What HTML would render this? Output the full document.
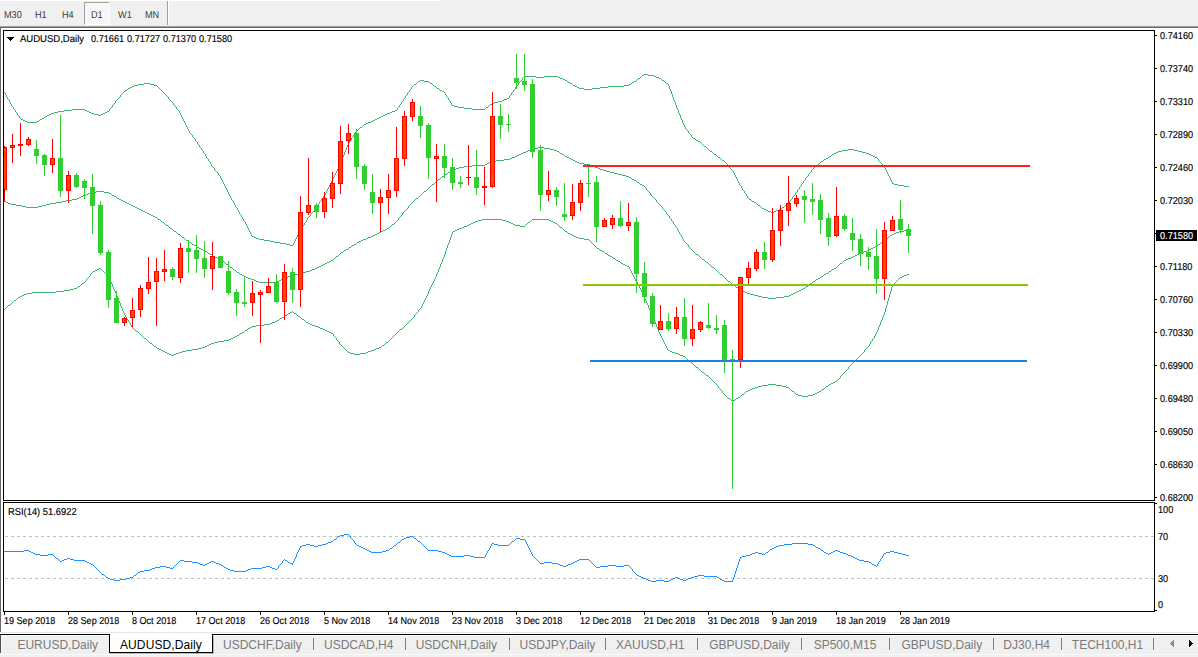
<!DOCTYPE html>
<html><head><meta charset="utf-8"><title>AUDUSD,Daily</title>
<style>
html,body{margin:0;padding:0;background:#fff;}
body{width:1198px;height:657px;position:relative;overflow:hidden;font-family:"Liberation Sans",sans-serif;}
#chart{position:absolute;left:0;top:0;}
.ax{-webkit-text-stroke:0.15px #000;position:absolute;font-size:10px;line-height:11px;height:11px;color:#000;white-space:pre;text-rendering:geometricPrecision;transform:scale(.915,1);transform-origin:0 0;}
.tb{position:absolute;top:10px;font-size:10px;line-height:11px;color:#3a3a3a;white-space:pre;text-rendering:geometricPrecision;transform:scale(.915,1);transform-origin:0 0;}
#toolbar{position:absolute;left:0;top:0;width:1198px;height:26px;background:#f0f0f0;}
#toolbar .hl{position:absolute;left:0;top:0;width:441px;height:1px;background:#fff;}
#tl1{position:absolute;left:0;top:26px;width:1198px;height:1px;background:#a0a0a0;}
#tl2{position:absolute;left:0;top:27px;width:1198px;height:1px;background:#696969;}
#lcol{position:absolute;left:0;top:27px;width:1px;height:605px;background:#696969;}
#tabbar .e0{position:absolute;left:0;top:3px;width:1px;height:18px;background:#505050;}
#tabbar .e1{position:absolute;left:1px;top:3px;width:1px;height:18px;background:#f8f8f8;}
#d1{position:absolute;left:84px;top:2px;width:24px;height:21px;border:1px solid #fff;border-top-color:#a0a0a0;border-left-color:#a0a0a0;background:repeating-conic-gradient(#fff 0% 25%, #f0f0f0 0% 50%) 0 0/2px 2px;}
#sepa{position:absolute;left:167px;top:1px;width:1px;height:24px;background:#a0a0a0;}
#sepb{position:absolute;left:168px;top:1px;width:1px;height:24px;background:#fff;}
#tabbar{position:absolute;left:0;top:632px;width:1198px;height:25px;background:#f0f0f0;}
#tabbar .l0{position:absolute;left:0;top:0;width:1198px;height:1px;background:#e6e6e6;}
#tabbar .l1{position:absolute;left:0;top:1px;width:1198px;height:1px;background:#fff;}
#tabbar .l2{position:absolute;left:0;top:2px;width:1198px;height:1px;background:#000;}
#tabbar .l3{position:absolute;left:0;top:3px;width:1198px;height:1px;background:#fff;}
#tabbar .l4{position:absolute;left:0;top:22px;width:1198px;height:1px;background:#fbfbfb;}
#acttab{position:absolute;left:109px;top:633px;width:102px;height:19px;background:#fff;border-left:1px solid #000;border-right:1px solid #000;border-bottom:1px solid #000;}
#acttab .sr{position:absolute;left:103px;top:3px;width:1px;height:18px;background:#b8b8b8;}
#acttab .sb{position:absolute;left:0px;top:20px;width:103px;height:1px;background:#b8b8b8;}
#acttab .cap{position:absolute;left:-1px;top:0;width:104px;height:1px;background:#fff;}
.tab{position:absolute;top:638px;font-size:12px;line-height:14px;color:#7a7a7a;white-space:pre;}
.tab.act{color:#000;letter-spacing:0.1px;}
</style></head><body>
<div id="toolbar"><div class="hl"></div><div id="d1"></div><div id="sepa"></div><div id="sepb"></div>
<div class="tb" style="left:3.6px">M30</div><div class="tb" style="left:35px">H1</div><div class="tb" style="left:62px">H4</div><div class="tb" style="left:90.5px">D1</div><div class="tb" style="left:118px">W1</div><div class="tb" style="left:145px">MN</div>
</div>
<div id="tl1"></div><div id="tl2"></div><div id="lcol"></div>
<svg id="chart" width="1198" height="657" viewBox="0 0 1198 657" shape-rendering="crispEdges">
<rect x="3" y="30" width="1152" height="1" fill="#000"/>
<rect x="3" y="500" width="1152" height="1" fill="#000"/>
<rect x="3" y="30" width="1" height="471" fill="#000"/>
<rect x="1154" y="30" width="1" height="471" fill="#000"/>
<rect x="3" y="502" width="1152" height="1" fill="#000"/>
<rect x="3" y="611" width="1152" height="1" fill="#000"/>
<rect x="3" y="502" width="1" height="110" fill="#000"/>
<rect x="1154" y="502" width="1" height="110" fill="#000"/>
<line x1="4" y1="536.5" x2="1154" y2="536.5" stroke="#c0c0c0" stroke-width="1" stroke-dasharray="3 3" stroke-dashoffset="-1"/>
<line x1="4" y1="578.5" x2="1154" y2="578.5" stroke="#c0c0c0" stroke-width="1" stroke-dasharray="3 3" stroke-dashoffset="-1"/>
<path d="M644 74h4v1h-4zM642 75h2v1h-2zM648 75h6v1h-6zM524 76h12v1h-12zM544 76h14v1h-14zM641 76h1v1h-1zM654 76h2v1h-2zM523 77h1v1h-1zM536 77h8v1h-8zM558 77h2v1h-2zM640 77h1v1h-1zM656 77h3v1h-3zM522 78h1v1h-1zM560 78h3v1h-3zM638 78h2v1h-2zM659 78h2v1h-2zM522 79h1v1h-1zM563 79h2v1h-2zM637 79h1v1h-1zM661 79h1v1h-1zM420 80h4v1h-4zM521 80h1v1h-1zM565 80h2v1h-2zM636 80h1v1h-1zM662 80h2v1h-2zM418 81h2v1h-2zM424 81h5v1h-5zM520 81h1v1h-1zM567 81h1v1h-1zM634 81h2v1h-2zM664 81h1v1h-1zM417 82h1v1h-1zM429 82h1v1h-1zM519 82h1v1h-1zM568 82h2v1h-2zM632 82h2v1h-2zM665 82h1v1h-1zM144 83h6v1h-6zM416 83h1v1h-1zM430 83h2v1h-2zM518 83h1v1h-1zM570 83h2v1h-2zM631 83h1v1h-1zM666 83h2v1h-2zM138 84h6v1h-6zM150 84h4v1h-4zM414 84h2v1h-2zM432 84h1v1h-1zM518 84h1v1h-1zM572 84h1v1h-1zM629 84h2v1h-2zM668 84h1v1h-1zM134 85h4v1h-4zM154 85h3v1h-3zM413 85h1v1h-1zM433 85h1v1h-1zM517 85h1v1h-1zM573 85h2v1h-2zM624 85h5v1h-5zM668 85h1v1h-1zM132 86h2v1h-2zM157 86h1v1h-1zM412 86h1v1h-1zM434 86h2v1h-2zM516 86h1v1h-1zM575 86h2v1h-2zM608 86h16v1h-16zM669 86h1v1h-1zM130 87h2v1h-2zM158 87h1v1h-1zM411 87h1v1h-1zM436 87h1v1h-1zM515 87h1v1h-1zM577 87h2v1h-2zM600 87h8v1h-8zM669 87h1v1h-1zM128 88h2v1h-2zM159 88h1v1h-1zM411 88h1v1h-1zM437 88h2v1h-2zM515 88h1v1h-1zM579 88h5v1h-5zM592 88h8v1h-8zM669 88h1v1h-1zM127 89h1v1h-1zM160 89h1v1h-1zM410 89h1v1h-1zM439 89h1v1h-1zM514 89h1v1h-1zM584 89h8v1h-8zM670 89h1v1h-1zM125 90h2v1h-2zM161 90h1v1h-1zM409 90h1v1h-1zM440 90h2v1h-2zM513 90h1v1h-1zM670 90h1v1h-1zM124 91h1v1h-1zM162 91h1v1h-1zM409 91h1v1h-1zM442 91h2v1h-2zM513 91h1v1h-1zM671 91h1v1h-1zM4 92h1v1h-1zM123 92h1v1h-1zM163 92h1v1h-1zM408 92h1v1h-1zM444 92h1v1h-1zM512 92h1v1h-1zM671 92h1v1h-1zM5 93h1v1h-1zM122 93h1v1h-1zM164 93h1v1h-1zM407 93h1v1h-1zM445 93h1v1h-1zM511 93h1v1h-1zM671 93h1v1h-1zM5 94h1v1h-1zM121 94h1v1h-1zM165 94h1v1h-1zM407 94h1v1h-1zM445 94h1v1h-1zM511 94h1v1h-1zM672 94h1v1h-1zM6 95h1v1h-1zM120 95h1v1h-1zM166 95h1v1h-1zM406 95h1v1h-1zM446 95h1v1h-1zM510 95h1v1h-1zM672 95h1v1h-1zM6 96h1v1h-1zM120 96h1v1h-1zM167 96h1v1h-1zM405 96h1v1h-1zM446 96h1v1h-1zM509 96h1v1h-1zM672 96h1v1h-1zM7 97h1v1h-1zM119 97h1v1h-1zM168 97h1v1h-1zM405 97h1v1h-1zM447 97h1v1h-1zM509 97h1v1h-1zM673 97h1v1h-1zM7 98h1v1h-1zM118 98h1v1h-1zM168 98h1v1h-1zM404 98h1v1h-1zM448 98h1v1h-1zM507 98h2v1h-2zM673 98h1v1h-1zM8 99h1v1h-1zM117 99h1v1h-1zM169 99h1v1h-1zM403 99h1v1h-1zM448 99h1v1h-1zM504 99h3v1h-3zM673 99h1v1h-1zM9 100h1v1h-1zM116 100h1v1h-1zM170 100h1v1h-1zM403 100h1v1h-1zM449 100h1v1h-1zM502 100h2v1h-2zM674 100h1v1h-1zM9 101h1v1h-1zM115 101h1v1h-1zM171 101h1v1h-1zM402 101h1v1h-1zM450 101h1v1h-1zM498 101h4v1h-4zM674 101h1v1h-1zM10 102h1v1h-1zM115 102h1v1h-1zM172 102h1v1h-1zM401 102h1v1h-1zM450 102h1v1h-1zM494 102h4v1h-4zM675 102h1v1h-1zM10 103h1v1h-1zM114 103h1v1h-1zM173 103h1v1h-1zM401 103h1v1h-1zM451 103h1v1h-1zM492 103h2v1h-2zM675 103h1v1h-1zM11 104h1v1h-1zM113 104h1v1h-1zM173 104h1v1h-1zM400 104h1v1h-1zM451 104h1v1h-1zM490 104h2v1h-2zM675 104h1v1h-1zM11 105h1v1h-1zM112 105h1v1h-1zM174 105h1v1h-1zM399 105h1v1h-1zM452 105h2v1h-2zM489 105h1v1h-1zM676 105h1v1h-1zM12 106h1v1h-1zM112 106h1v1h-1zM175 106h1v1h-1zM399 106h1v1h-1zM454 106h4v1h-4zM488 106h1v1h-1zM676 106h1v1h-1zM13 107h1v1h-1zM111 107h1v1h-1zM176 107h1v1h-1zM398 107h1v1h-1zM458 107h6v1h-6zM486 107h2v1h-2zM676 107h1v1h-1zM13 108h1v1h-1zM110 108h1v1h-1zM176 108h1v1h-1zM397 108h1v1h-1zM464 108h8v1h-8zM485 108h1v1h-1zM677 108h1v1h-1zM14 109h1v1h-1zM72 109h13v1h-13zM109 109h1v1h-1zM177 109h1v1h-1zM397 109h1v1h-1zM472 109h13v1h-13zM677 109h1v1h-1zM15 110h1v1h-1zM64 110h8v1h-8zM85 110h2v1h-2zM109 110h1v1h-1zM178 110h1v1h-1zM395 110h2v1h-2zM678 110h1v1h-1zM15 111h1v1h-1zM58 111h6v1h-6zM87 111h2v1h-2zM107 111h2v1h-2zM179 111h1v1h-1zM392 111h3v1h-3zM678 111h1v1h-1zM16 112h1v1h-1zM54 112h4v1h-4zM89 112h2v1h-2zM105 112h2v1h-2zM179 112h1v1h-1zM390 112h2v1h-2zM678 112h1v1h-1zM17 113h1v1h-1zM51 113h3v1h-3zM91 113h3v1h-3zM103 113h2v1h-2zM180 113h1v1h-1zM387 113h3v1h-3zM679 113h1v1h-1zM17 114h1v1h-1zM49 114h2v1h-2zM94 114h4v1h-4zM101 114h2v1h-2zM180 114h1v1h-1zM385 114h2v1h-2zM679 114h1v1h-1zM18 115h1v1h-1zM47 115h2v1h-2zM98 115h3v1h-3zM181 115h1v1h-1zM383 115h2v1h-2zM680 115h1v1h-1zM19 116h1v1h-1zM45 116h2v1h-2zM181 116h1v1h-1zM381 116h2v1h-2zM680 116h1v1h-1zM19 117h1v1h-1zM44 117h1v1h-1zM182 117h1v1h-1zM379 117h2v1h-2zM680 117h1v1h-1zM20 118h1v1h-1zM42 118h2v1h-2zM182 118h1v1h-1zM377 118h2v1h-2zM681 118h1v1h-1zM21 119h2v1h-2zM40 119h2v1h-2zM183 119h1v1h-1zM375 119h2v1h-2zM681 119h1v1h-1zM23 120h2v1h-2zM39 120h1v1h-1zM183 120h1v1h-1zM373 120h2v1h-2zM682 120h1v1h-1zM25 121h2v1h-2zM37 121h2v1h-2zM184 121h1v1h-1zM371 121h2v1h-2zM682 121h1v1h-1zM27 122h10v1h-10zM184 122h1v1h-1zM368 122h3v1h-3zM682 122h1v1h-1zM185 123h1v1h-1zM366 123h2v1h-2zM683 123h1v1h-1zM185 124h1v1h-1zM364 124h2v1h-2zM683 124h1v1h-1zM186 125h1v1h-1zM363 125h1v1h-1zM684 125h1v1h-1zM186 126h1v1h-1zM362 126h1v1h-1zM684 126h1v1h-1zM187 127h1v1h-1zM360 127h2v1h-2zM685 127h1v1h-1zM187 128h1v1h-1zM359 128h1v1h-1zM685 128h1v1h-1zM188 129h1v1h-1zM358 129h1v1h-1zM686 129h1v1h-1zM188 130h1v1h-1zM357 130h1v1h-1zM687 130h1v1h-1zM189 131h1v1h-1zM356 131h1v1h-1zM688 131h1v1h-1zM189 132h1v1h-1zM355 132h1v1h-1zM688 132h1v1h-1zM190 133h1v1h-1zM355 133h1v1h-1zM689 133h1v1h-1zM191 134h1v1h-1zM354 134h1v1h-1zM690 134h1v1h-1zM192 135h1v1h-1zM353 135h1v1h-1zM691 135h1v1h-1zM192 136h1v1h-1zM353 136h1v1h-1zM691 136h1v1h-1zM193 137h1v1h-1zM352 137h1v1h-1zM692 137h1v1h-1zM194 138h1v1h-1zM351 138h1v1h-1zM693 138h2v1h-2zM195 139h1v1h-1zM351 139h1v1h-1zM695 139h1v1h-1zM195 140h1v1h-1zM350 140h1v1h-1zM696 140h2v1h-2zM196 141h1v1h-1zM349 141h1v1h-1zM698 141h2v1h-2zM197 142h1v1h-1zM349 142h1v1h-1zM700 142h1v1h-1zM197 143h1v1h-1zM348 143h1v1h-1zM701 143h1v1h-1zM198 144h1v1h-1zM348 144h1v1h-1zM702 144h1v1h-1zM199 145h1v1h-1zM347 145h1v1h-1zM703 145h1v1h-1zM199 146h1v1h-1zM347 146h1v1h-1zM704 146h2v1h-2zM200 147h1v1h-1zM346 147h1v1h-1zM706 147h1v1h-1zM201 148h1v1h-1zM346 148h1v1h-1zM707 148h1v1h-1zM201 149h1v1h-1zM346 149h1v1h-1zM708 149h1v1h-1zM848 149h6v1h-6zM202 150h1v1h-1zM345 150h1v1h-1zM709 150h1v1h-1zM842 150h6v1h-6zM854 150h4v1h-4zM203 151h1v1h-1zM345 151h1v1h-1zM710 151h2v1h-2zM838 151h4v1h-4zM858 151h4v1h-4zM203 152h1v1h-1zM344 152h1v1h-1zM712 152h1v1h-1zM836 152h2v1h-2zM862 152h4v1h-4zM204 153h1v1h-1zM344 153h1v1h-1zM713 153h1v1h-1zM834 153h2v1h-2zM866 153h3v1h-3zM205 154h1v1h-1zM344 154h1v1h-1zM714 154h2v1h-2zM832 154h2v1h-2zM869 154h2v1h-2zM205 155h1v1h-1zM343 155h1v1h-1zM716 155h1v1h-1zM831 155h1v1h-1zM871 155h2v1h-2zM206 156h1v1h-1zM343 156h1v1h-1zM717 156h1v1h-1zM829 156h2v1h-2zM873 156h2v1h-2zM206 157h1v1h-1zM342 157h1v1h-1zM718 157h2v1h-2zM828 157h1v1h-1zM875 157h2v1h-2zM207 158h1v1h-1zM342 158h1v1h-1zM720 158h1v1h-1zM826 158h2v1h-2zM877 158h1v1h-1zM208 159h1v1h-1zM342 159h1v1h-1zM721 159h1v1h-1zM824 159h2v1h-2zM878 159h1v1h-1zM208 160h1v1h-1zM341 160h1v1h-1zM722 160h2v1h-2zM823 160h1v1h-1zM878 160h1v1h-1zM209 161h1v1h-1zM341 161h1v1h-1zM724 161h1v1h-1zM821 161h2v1h-2zM879 161h1v1h-1zM210 162h1v1h-1zM340 162h1v1h-1zM725 162h1v1h-1zM820 162h1v1h-1zM880 162h1v1h-1zM210 163h1v1h-1zM340 163h1v1h-1zM726 163h1v1h-1zM819 163h1v1h-1zM881 163h1v1h-1zM211 164h1v1h-1zM340 164h1v1h-1zM727 164h1v1h-1zM818 164h1v1h-1zM882 164h1v1h-1zM211 165h1v1h-1zM339 165h1v1h-1zM728 165h1v1h-1zM816 165h2v1h-2zM882 165h1v1h-1zM212 166h1v1h-1zM339 166h1v1h-1zM728 166h1v1h-1zM815 166h1v1h-1zM883 166h1v1h-1zM213 167h1v1h-1zM338 167h1v1h-1zM729 167h1v1h-1zM814 167h1v1h-1zM884 167h1v1h-1zM214 168h1v1h-1zM338 168h1v1h-1zM730 168h1v1h-1zM813 168h1v1h-1zM885 168h1v1h-1zM214 169h1v1h-1zM337 169h1v1h-1zM731 169h1v1h-1zM812 169h1v1h-1zM885 169h1v1h-1zM215 170h1v1h-1zM337 170h1v1h-1zM732 170h1v1h-1zM811 170h1v1h-1zM886 170h1v1h-1zM216 171h1v1h-1zM336 171h1v1h-1zM733 171h1v1h-1zM811 171h1v1h-1zM886 171h1v1h-1zM217 172h1v1h-1zM336 172h1v1h-1zM733 172h1v1h-1zM810 172h1v1h-1zM887 172h1v1h-1zM218 173h1v1h-1zM335 173h1v1h-1zM734 173h1v1h-1zM809 173h1v1h-1zM887 173h1v1h-1zM218 174h1v1h-1zM335 174h1v1h-1zM734 174h1v1h-1zM808 174h1v1h-1zM888 174h1v1h-1zM219 175h1v1h-1zM334 175h1v1h-1zM735 175h1v1h-1zM808 175h1v1h-1zM888 175h1v1h-1zM220 176h1v1h-1zM334 176h1v1h-1zM735 176h1v1h-1zM807 176h1v1h-1zM889 176h1v1h-1zM220 177h1v1h-1zM333 177h1v1h-1zM736 177h1v1h-1zM806 177h1v1h-1zM889 177h1v1h-1zM221 178h1v1h-1zM333 178h1v1h-1zM736 178h1v1h-1zM805 178h1v1h-1zM890 178h1v1h-1zM221 179h1v1h-1zM332 179h1v1h-1zM737 179h1v1h-1zM805 179h1v1h-1zM890 179h1v1h-1zM222 180h1v1h-1zM332 180h1v1h-1zM737 180h1v1h-1zM804 180h1v1h-1zM891 180h1v1h-1zM222 181h1v1h-1zM331 181h1v1h-1zM738 181h1v1h-1zM803 181h1v1h-1zM891 181h1v1h-1zM223 182h1v1h-1zM331 182h1v1h-1zM738 182h1v1h-1zM803 182h1v1h-1zM892 182h1v1h-1zM223 183h1v1h-1zM330 183h1v1h-1zM739 183h1v1h-1zM802 183h1v1h-1zM892 183h2v1h-2zM224 184h1v1h-1zM330 184h1v1h-1zM739 184h1v1h-1zM801 184h1v1h-1zM894 184h4v1h-4zM224 185h1v1h-1zM329 185h1v1h-1zM740 185h1v1h-1zM801 185h1v1h-1zM898 185h6v1h-6zM225 186h1v1h-1zM329 186h1v1h-1zM741 186h1v1h-1zM800 186h1v1h-1zM904 186h5v1h-5zM225 187h1v1h-1zM328 187h1v1h-1zM741 187h1v1h-1zM799 187h1v1h-1zM226 188h1v1h-1zM328 188h1v1h-1zM742 188h1v1h-1zM799 188h1v1h-1zM226 189h1v1h-1zM327 189h1v1h-1zM742 189h1v1h-1zM798 189h1v1h-1zM227 190h1v1h-1zM327 190h1v1h-1zM743 190h1v1h-1zM797 190h1v1h-1zM227 191h1v1h-1zM326 191h1v1h-1zM744 191h1v1h-1zM797 191h1v1h-1zM228 192h1v1h-1zM326 192h1v1h-1zM744 192h1v1h-1zM796 192h1v1h-1zM228 193h1v1h-1zM325 193h1v1h-1zM745 193h1v1h-1zM795 193h1v1h-1zM229 194h1v1h-1zM325 194h1v1h-1zM746 194h1v1h-1zM795 194h1v1h-1zM229 195h1v1h-1zM324 195h1v1h-1zM746 195h1v1h-1zM794 195h1v1h-1zM230 196h1v1h-1zM323 196h1v1h-1zM747 196h1v1h-1zM793 196h1v1h-1zM230 197h1v1h-1zM323 197h1v1h-1zM747 197h1v1h-1zM792 197h1v1h-1zM231 198h1v1h-1zM322 198h1v1h-1zM748 198h1v1h-1zM792 198h1v1h-1zM231 199h1v1h-1zM321 199h1v1h-1zM749 199h2v1h-2zM791 199h1v1h-1zM232 200h1v1h-1zM321 200h1v1h-1zM751 200h1v1h-1zM790 200h1v1h-1zM233 201h1v1h-1zM320 201h1v1h-1zM752 201h2v1h-2zM789 201h1v1h-1zM233 202h1v1h-1zM319 202h1v1h-1zM754 202h2v1h-2zM789 202h1v1h-1zM234 203h1v1h-1zM319 203h1v1h-1zM756 203h1v1h-1zM788 203h1v1h-1zM234 204h1v1h-1zM318 204h1v1h-1zM757 204h1v1h-1zM786 204h2v1h-2zM235 205h1v1h-1zM317 205h1v1h-1zM758 205h2v1h-2zM785 205h1v1h-1zM235 206h1v1h-1zM317 206h1v1h-1zM760 206h1v1h-1zM784 206h1v1h-1zM236 207h1v1h-1zM316 207h1v1h-1zM761 207h1v1h-1zM782 207h2v1h-2zM237 208h1v1h-1zM315 208h1v1h-1zM762 208h2v1h-2zM781 208h1v1h-1zM237 209h1v1h-1zM314 209h1v1h-1zM764 209h2v1h-2zM779 209h2v1h-2zM238 210h1v1h-1zM314 210h1v1h-1zM766 210h2v1h-2zM776 210h3v1h-3zM238 211h1v1h-1zM313 211h1v1h-1zM768 211h3v1h-3zM774 211h2v1h-2zM239 212h1v1h-1zM312 212h1v1h-1zM771 212h3v1h-3zM239 213h1v1h-1zM311 213h1v1h-1zM240 214h1v1h-1zM310 214h1v1h-1zM241 215h1v1h-1zM310 215h1v1h-1zM241 216h1v1h-1zM309 216h1v1h-1zM242 217h1v1h-1zM308 217h1v1h-1zM242 218h1v1h-1zM307 218h1v1h-1zM243 219h1v1h-1zM307 219h1v1h-1zM243 220h1v1h-1zM306 220h1v1h-1zM244 221h1v1h-1zM306 221h1v1h-1zM245 222h1v1h-1zM305 222h1v1h-1zM245 223h1v1h-1zM304 223h1v1h-1zM246 224h1v1h-1zM304 224h1v1h-1zM246 225h1v1h-1zM303 225h1v1h-1zM247 226h1v1h-1zM302 226h1v1h-1zM247 227h1v1h-1zM302 227h1v1h-1zM248 228h1v1h-1zM301 228h1v1h-1zM248 229h1v1h-1zM301 229h1v1h-1zM249 230h1v1h-1zM300 230h1v1h-1zM249 231h1v1h-1zM299 231h1v1h-1zM250 232h1v1h-1zM299 232h1v1h-1zM250 233h1v1h-1zM298 233h1v1h-1zM251 234h1v1h-1zM298 234h1v1h-1zM251 235h1v1h-1zM297 235h1v1h-1zM252 236h2v1h-2zM297 236h1v1h-1zM254 237h2v1h-2zM296 237h1v1h-1zM256 238h3v1h-3zM296 238h1v1h-1zM259 239h5v1h-5zM295 239h1v1h-1zM264 240h6v1h-6zM295 240h1v1h-1zM270 241h4v1h-4zM294 241h1v1h-1zM274 242h6v1h-6zM294 242h1v1h-1zM280 243h6v1h-6zM293 243h1v1h-1zM286 244h4v1h-4zM293 244h1v1h-1zM290 245h3v1h-3z" fill="#3cb371"/>
<path d="M538 147h6v1h-6zM534 148h4v1h-4zM544 148h6v1h-6zM531 149h3v1h-3zM550 149h4v1h-4zM528 150h3v1h-3zM554 150h3v1h-3zM526 151h2v1h-2zM557 151h2v1h-2zM523 152h3v1h-3zM559 152h1v1h-1zM521 153h2v1h-2zM560 153h2v1h-2zM519 154h2v1h-2zM562 154h2v1h-2zM517 155h2v1h-2zM564 155h1v1h-1zM515 156h2v1h-2zM565 156h2v1h-2zM512 157h3v1h-3zM567 157h2v1h-2zM510 158h2v1h-2zM569 158h2v1h-2zM504 159h6v1h-6zM571 159h2v1h-2zM496 160h8v1h-8zM573 160h2v1h-2zM491 161h5v1h-5zM575 161h2v1h-2zM489 162h2v1h-2zM577 162h2v1h-2zM487 163h2v1h-2zM579 163h5v1h-5zM485 164h2v1h-2zM584 164h6v1h-6zM472 165h13v1h-13zM590 165h2v1h-2zM464 166h8v1h-8zM592 166h3v1h-3zM459 167h5v1h-5zM595 167h3v1h-3zM456 168h3v1h-3zM598 168h2v1h-2zM454 169h2v1h-2zM600 169h3v1h-3zM452 170h2v1h-2zM603 170h3v1h-3zM450 171h2v1h-2zM606 171h4v1h-4zM448 172h2v1h-2zM610 172h4v1h-4zM447 173h1v1h-1zM614 173h4v1h-4zM445 174h2v1h-2zM618 174h4v1h-4zM444 175h1v1h-1zM622 175h4v1h-4zM442 176h2v1h-2zM626 176h3v1h-3zM441 177h1v1h-1zM629 177h2v1h-2zM440 178h1v1h-1zM631 178h1v1h-1zM438 179h2v1h-2zM632 179h2v1h-2zM437 180h1v1h-1zM634 180h2v1h-2zM436 181h1v1h-1zM636 181h1v1h-1zM435 182h1v1h-1zM637 182h2v1h-2zM434 183h1v1h-1zM639 183h1v1h-1zM432 184h2v1h-2zM640 184h2v1h-2zM431 185h1v1h-1zM642 185h2v1h-2zM430 186h1v1h-1zM644 186h1v1h-1zM429 187h1v1h-1zM645 187h1v1h-1zM428 188h1v1h-1zM646 188h1v1h-1zM427 189h1v1h-1zM646 189h1v1h-1zM426 190h1v1h-1zM647 190h1v1h-1zM96 191h8v1h-8zM424 191h2v1h-2zM648 191h1v1h-1zM91 192h5v1h-5zM104 192h5v1h-5zM423 192h1v1h-1zM649 192h1v1h-1zM88 193h3v1h-3zM109 193h2v1h-2zM422 193h1v1h-1zM650 193h1v1h-1zM86 194h2v1h-2zM111 194h1v1h-1zM421 194h1v1h-1zM650 194h1v1h-1zM83 195h3v1h-3zM112 195h2v1h-2zM420 195h1v1h-1zM651 195h1v1h-1zM81 196h2v1h-2zM114 196h2v1h-2zM419 196h1v1h-1zM652 196h1v1h-1zM79 197h2v1h-2zM116 197h1v1h-1zM418 197h1v1h-1zM653 197h1v1h-1zM77 198h2v1h-2zM117 198h2v1h-2zM416 198h2v1h-2zM654 198h1v1h-1zM72 199h5v1h-5zM119 199h2v1h-2zM415 199h1v1h-1zM655 199h1v1h-1zM66 200h6v1h-6zM121 200h2v1h-2zM414 200h1v1h-1zM656 200h1v1h-1zM4 201h2v1h-2zM62 201h4v1h-4zM123 201h2v1h-2zM413 201h1v1h-1zM656 201h1v1h-1zM6 202h2v1h-2zM56 202h6v1h-6zM125 202h2v1h-2zM412 202h1v1h-1zM657 202h1v1h-1zM8 203h3v1h-3zM50 203h6v1h-6zM127 203h2v1h-2zM411 203h1v1h-1zM658 203h1v1h-1zM11 204h5v1h-5zM46 204h4v1h-4zM129 204h2v1h-2zM410 204h1v1h-1zM659 204h1v1h-1zM16 205h6v1h-6zM42 205h4v1h-4zM131 205h2v1h-2zM409 205h1v1h-1zM660 205h1v1h-1zM22 206h4v1h-4zM38 206h4v1h-4zM133 206h2v1h-2zM408 206h1v1h-1zM661 206h1v1h-1zM26 207h12v1h-12zM135 207h2v1h-2zM408 207h1v1h-1zM662 207h1v1h-1zM137 208h2v1h-2zM407 208h1v1h-1zM662 208h1v1h-1zM139 209h2v1h-2zM406 209h1v1h-1zM663 209h1v1h-1zM141 210h2v1h-2zM405 210h1v1h-1zM664 210h1v1h-1zM143 211h2v1h-2zM404 211h1v1h-1zM665 211h1v1h-1zM145 212h2v1h-2zM403 212h1v1h-1zM666 212h1v1h-1zM147 213h2v1h-2zM402 213h1v1h-1zM666 213h1v1h-1zM149 214h2v1h-2zM402 214h1v1h-1zM667 214h1v1h-1zM151 215h2v1h-2zM401 215h1v1h-1zM668 215h1v1h-1zM153 216h2v1h-2zM400 216h1v1h-1zM669 216h1v1h-1zM155 217h2v1h-2zM399 217h1v1h-1zM669 217h1v1h-1zM157 218h1v1h-1zM398 218h1v1h-1zM670 218h1v1h-1zM158 219h2v1h-2zM398 219h1v1h-1zM671 219h1v1h-1zM160 220h1v1h-1zM397 220h1v1h-1zM671 220h1v1h-1zM161 221h1v1h-1zM396 221h1v1h-1zM672 221h1v1h-1zM162 222h2v1h-2zM395 222h1v1h-1zM673 222h1v1h-1zM164 223h1v1h-1zM394 223h1v1h-1zM673 223h1v1h-1zM165 224h1v1h-1zM392 224h2v1h-2zM674 224h1v1h-1zM166 225h2v1h-2zM391 225h1v1h-1zM675 225h1v1h-1zM168 226h1v1h-1zM390 226h1v1h-1zM675 226h1v1h-1zM169 227h1v1h-1zM389 227h1v1h-1zM676 227h1v1h-1zM170 228h2v1h-2zM387 228h2v1h-2zM677 228h1v1h-1zM172 229h1v1h-1zM385 229h2v1h-2zM677 229h1v1h-1zM173 230h1v1h-1zM383 230h2v1h-2zM678 230h1v1h-1zM904 230h5v1h-5zM174 231h2v1h-2zM381 231h2v1h-2zM678 231h1v1h-1zM899 231h5v1h-5zM176 232h1v1h-1zM379 232h2v1h-2zM679 232h1v1h-1zM896 232h3v1h-3zM177 233h1v1h-1zM377 233h2v1h-2zM679 233h1v1h-1zM894 233h2v1h-2zM178 234h2v1h-2zM375 234h2v1h-2zM680 234h1v1h-1zM892 234h2v1h-2zM180 235h1v1h-1zM373 235h2v1h-2zM681 235h1v1h-1zM890 235h2v1h-2zM181 236h1v1h-1zM371 236h2v1h-2zM681 236h1v1h-1zM889 236h1v1h-1zM182 237h2v1h-2zM368 237h3v1h-3zM682 237h1v1h-1zM888 237h1v1h-1zM184 238h1v1h-1zM366 238h2v1h-2zM682 238h1v1h-1zM886 238h2v1h-2zM185 239h1v1h-1zM363 239h3v1h-3zM683 239h1v1h-1zM885 239h1v1h-1zM186 240h2v1h-2zM361 240h2v1h-2zM683 240h1v1h-1zM884 240h1v1h-1zM188 241h1v1h-1zM359 241h2v1h-2zM684 241h1v1h-1zM882 241h2v1h-2zM189 242h2v1h-2zM357 242h2v1h-2zM685 242h1v1h-1zM881 242h1v1h-1zM191 243h1v1h-1zM356 243h1v1h-1zM686 243h1v1h-1zM880 243h1v1h-1zM192 244h2v1h-2zM354 244h2v1h-2zM687 244h1v1h-1zM878 244h2v1h-2zM194 245h2v1h-2zM352 245h2v1h-2zM688 245h1v1h-1zM877 245h1v1h-1zM196 246h1v1h-1zM351 246h1v1h-1zM688 246h1v1h-1zM875 246h2v1h-2zM197 247h2v1h-2zM349 247h2v1h-2zM689 247h1v1h-1zM873 247h2v1h-2zM199 248h2v1h-2zM348 248h1v1h-1zM690 248h1v1h-1zM871 248h2v1h-2zM201 249h2v1h-2zM346 249h2v1h-2zM691 249h1v1h-1zM869 249h2v1h-2zM203 250h2v1h-2zM344 250h2v1h-2zM692 250h1v1h-1zM867 250h2v1h-2zM205 251h2v1h-2zM343 251h1v1h-1zM693 251h1v1h-1zM864 251h3v1h-3zM207 252h1v1h-1zM341 252h2v1h-2zM694 252h1v1h-1zM862 252h2v1h-2zM208 253h2v1h-2zM340 253h1v1h-1zM695 253h1v1h-1zM859 253h3v1h-3zM210 254h2v1h-2zM339 254h1v1h-1zM696 254h2v1h-2zM857 254h2v1h-2zM212 255h1v1h-1zM338 255h1v1h-1zM698 255h1v1h-1zM855 255h2v1h-2zM213 256h2v1h-2zM336 256h2v1h-2zM699 256h1v1h-1zM853 256h2v1h-2zM215 257h2v1h-2zM335 257h1v1h-1zM700 257h1v1h-1zM851 257h2v1h-2zM217 258h2v1h-2zM334 258h1v1h-1zM701 258h1v1h-1zM848 258h3v1h-3zM219 259h2v1h-2zM333 259h1v1h-1zM702 259h2v1h-2zM846 259h2v1h-2zM221 260h1v1h-1zM331 260h2v1h-2zM704 260h1v1h-1zM844 260h2v1h-2zM222 261h2v1h-2zM329 261h2v1h-2zM705 261h1v1h-1zM843 261h1v1h-1zM224 262h1v1h-1zM327 262h2v1h-2zM706 262h2v1h-2zM842 262h1v1h-1zM225 263h1v1h-1zM325 263h2v1h-2zM708 263h1v1h-1zM840 263h2v1h-2zM226 264h2v1h-2zM323 264h2v1h-2zM709 264h1v1h-1zM839 264h1v1h-1zM228 265h1v1h-1zM321 265h2v1h-2zM710 265h1v1h-1zM838 265h1v1h-1zM229 266h1v1h-1zM319 266h2v1h-2zM711 266h1v1h-1zM837 266h1v1h-1zM230 267h2v1h-2zM317 267h2v1h-2zM712 267h2v1h-2zM836 267h1v1h-1zM232 268h1v1h-1zM315 268h2v1h-2zM714 268h1v1h-1zM834 268h2v1h-2zM233 269h1v1h-1zM312 269h3v1h-3zM715 269h1v1h-1zM832 269h2v1h-2zM234 270h2v1h-2zM310 270h2v1h-2zM716 270h1v1h-1zM831 270h1v1h-1zM236 271h1v1h-1zM306 271h4v1h-4zM717 271h1v1h-1zM829 271h2v1h-2zM237 272h2v1h-2zM302 272h4v1h-4zM718 272h1v1h-1zM828 272h1v1h-1zM239 273h1v1h-1zM298 273h4v1h-4zM719 273h1v1h-1zM826 273h2v1h-2zM240 274h2v1h-2zM294 274h4v1h-4zM720 274h2v1h-2zM824 274h2v1h-2zM242 275h2v1h-2zM291 275h3v1h-3zM722 275h1v1h-1zM823 275h1v1h-1zM244 276h2v1h-2zM288 276h3v1h-3zM723 276h1v1h-1zM821 276h2v1h-2zM246 277h2v1h-2zM286 277h2v1h-2zM724 277h1v1h-1zM820 277h1v1h-1zM248 278h3v1h-3zM283 278h3v1h-3zM725 278h1v1h-1zM818 278h2v1h-2zM251 279h3v1h-3zM281 279h2v1h-2zM726 279h1v1h-1zM816 279h2v1h-2zM254 280h2v1h-2zM279 280h2v1h-2zM727 280h1v1h-1zM815 280h1v1h-1zM256 281h3v1h-3zM277 281h2v1h-2zM728 281h2v1h-2zM813 281h2v1h-2zM259 282h18v1h-18zM730 282h1v1h-1zM812 282h1v1h-1zM731 283h1v1h-1zM810 283h2v1h-2zM732 284h1v1h-1zM809 284h1v1h-1zM733 285h2v1h-2zM808 285h1v1h-1zM735 286h1v1h-1zM806 286h2v1h-2zM736 287h2v1h-2zM805 287h1v1h-1zM738 288h2v1h-2zM803 288h2v1h-2zM740 289h1v1h-1zM801 289h2v1h-2zM741 290h2v1h-2zM799 290h2v1h-2zM743 291h2v1h-2zM797 291h2v1h-2zM745 292h2v1h-2zM795 292h2v1h-2zM747 293h3v1h-3zM793 293h2v1h-2zM750 294h4v1h-4zM791 294h2v1h-2zM754 295h4v1h-4zM789 295h2v1h-2zM758 296h4v1h-4zM784 296h5v1h-5zM762 297h6v1h-6zM776 297h8v1h-8zM768 298h8v1h-8z" fill="#3cb371"/>
<path d="M482 219h20v1h-20zM532 219h17v1h-17zM478 220h4v1h-4zM502 220h4v1h-4zM531 220h1v1h-1zM549 220h2v1h-2zM475 221h3v1h-3zM506 221h3v1h-3zM530 221h1v1h-1zM551 221h2v1h-2zM473 222h2v1h-2zM509 222h2v1h-2zM528 222h2v1h-2zM553 222h2v1h-2zM471 223h2v1h-2zM511 223h2v1h-2zM527 223h1v1h-1zM555 223h2v1h-2zM469 224h2v1h-2zM513 224h2v1h-2zM526 224h1v1h-1zM557 224h1v1h-1zM467 225h2v1h-2zM515 225h5v1h-5zM525 225h1v1h-1zM558 225h1v1h-1zM464 226h3v1h-3zM520 226h5v1h-5zM559 226h1v1h-1zM462 227h2v1h-2zM560 227h2v1h-2zM459 228h3v1h-3zM562 228h1v1h-1zM457 229h2v1h-2zM563 229h1v1h-1zM455 230h2v1h-2zM564 230h1v1h-1zM453 231h2v1h-2zM565 231h2v1h-2zM452 232h1v1h-1zM567 232h1v1h-1zM452 233h1v1h-1zM568 233h2v1h-2zM451 234h1v1h-1zM570 234h2v1h-2zM451 235h1v1h-1zM572 235h2v1h-2zM451 236h1v1h-1zM574 236h2v1h-2zM450 237h1v1h-1zM576 237h3v1h-3zM450 238h1v1h-1zM579 238h5v1h-5zM450 239h1v1h-1zM584 239h5v1h-5zM449 240h1v1h-1zM589 240h1v1h-1zM449 241h1v1h-1zM590 241h1v1h-1zM449 242h1v1h-1zM591 242h1v1h-1zM448 243h1v1h-1zM592 243h1v1h-1zM448 244h1v1h-1zM593 244h1v1h-1zM447 245h1v1h-1zM594 245h1v1h-1zM447 246h1v1h-1zM595 246h1v1h-1zM447 247h1v1h-1zM596 247h1v1h-1zM446 248h1v1h-1zM597 248h2v1h-2zM446 249h1v1h-1zM599 249h1v1h-1zM446 250h1v1h-1zM600 250h2v1h-2zM445 251h1v1h-1zM602 251h2v1h-2zM445 252h1v1h-1zM604 252h1v1h-1zM445 253h1v1h-1zM605 253h2v1h-2zM444 254h1v1h-1zM607 254h1v1h-1zM444 255h1v1h-1zM608 255h2v1h-2zM444 256h1v1h-1zM610 256h2v1h-2zM443 257h1v1h-1zM612 257h1v1h-1zM443 258h1v1h-1zM613 258h2v1h-2zM442 259h1v1h-1zM615 259h1v1h-1zM442 260h1v1h-1zM616 260h2v1h-2zM442 261h1v1h-1zM618 261h2v1h-2zM441 262h1v1h-1zM620 262h1v1h-1zM441 263h1v1h-1zM621 263h2v1h-2zM440 264h1v1h-1zM623 264h2v1h-2zM440 265h1v1h-1zM625 265h2v1h-2zM440 266h1v1h-1zM627 266h2v1h-2zM439 267h1v1h-1zM629 267h1v1h-1zM99 268h2v1h-2zM439 268h1v1h-1zM629 268h1v1h-1zM97 269h2v1h-2zM101 269h1v1h-1zM438 269h1v1h-1zM630 269h1v1h-1zM95 270h2v1h-2zM102 270h1v1h-1zM438 270h1v1h-1zM630 270h1v1h-1zM93 271h2v1h-2zM103 271h1v1h-1zM438 271h1v1h-1zM631 271h1v1h-1zM92 272h1v1h-1zM104 272h1v1h-1zM437 272h1v1h-1zM631 272h1v1h-1zM91 273h1v1h-1zM105 273h1v1h-1zM437 273h1v1h-1zM632 273h1v1h-1zM90 274h1v1h-1zM106 274h1v1h-1zM436 274h1v1h-1zM632 274h1v1h-1zM907 274h2v1h-2zM90 275h1v1h-1zM107 275h1v1h-1zM436 275h1v1h-1zM633 275h1v1h-1zM904 275h3v1h-3zM89 276h1v1h-1zM108 276h1v1h-1zM436 276h1v1h-1zM633 276h1v1h-1zM902 276h2v1h-2zM88 277h1v1h-1zM108 277h1v1h-1zM435 277h1v1h-1zM634 277h1v1h-1zM900 277h2v1h-2zM87 278h1v1h-1zM109 278h1v1h-1zM435 278h1v1h-1zM634 278h1v1h-1zM899 278h1v1h-1zM86 279h1v1h-1zM109 279h1v1h-1zM434 279h1v1h-1zM635 279h1v1h-1zM898 279h1v1h-1zM86 280h1v1h-1zM110 280h1v1h-1zM434 280h1v1h-1zM635 280h1v1h-1zM897 280h1v1h-1zM85 281h1v1h-1zM110 281h1v1h-1zM433 281h1v1h-1zM636 281h1v1h-1zM896 281h1v1h-1zM84 282h1v1h-1zM111 282h1v1h-1zM433 282h1v1h-1zM637 282h1v1h-1zM895 282h1v1h-1zM82 283h2v1h-2zM111 283h1v1h-1zM432 283h1v1h-1zM637 283h1v1h-1zM894 283h1v1h-1zM81 284h1v1h-1zM112 284h1v1h-1zM432 284h1v1h-1zM638 284h1v1h-1zM893 284h1v1h-1zM80 285h1v1h-1zM112 285h1v1h-1zM431 285h1v1h-1zM638 285h1v1h-1zM892 285h1v1h-1zM78 286h2v1h-2zM112 286h1v1h-1zM431 286h1v1h-1zM639 286h1v1h-1zM892 286h1v1h-1zM77 287h1v1h-1zM113 287h1v1h-1zM430 287h1v1h-1zM639 287h1v1h-1zM891 287h1v1h-1zM74 288h3v1h-3zM113 288h1v1h-1zM430 288h1v1h-1zM640 288h1v1h-1zM891 288h1v1h-1zM70 289h4v1h-4zM114 289h1v1h-1zM429 289h1v1h-1zM640 289h1v1h-1zM891 289h1v1h-1zM64 290h6v1h-6zM114 290h1v1h-1zM429 290h1v1h-1zM641 290h1v1h-1zM891 290h1v1h-1zM56 291h8v1h-8zM115 291h1v1h-1zM428 291h1v1h-1zM641 291h1v1h-1zM890 291h1v1h-1zM32 292h24v1h-24zM115 292h1v1h-1zM428 292h1v1h-1zM642 292h1v1h-1zM890 292h1v1h-1zM27 293h5v1h-5zM116 293h1v1h-1zM428 293h1v1h-1zM642 293h1v1h-1zM890 293h1v1h-1zM24 294h3v1h-3zM116 294h1v1h-1zM427 294h1v1h-1zM643 294h1v1h-1zM889 294h1v1h-1zM22 295h2v1h-2zM116 295h1v1h-1zM427 295h1v1h-1zM643 295h1v1h-1zM889 295h1v1h-1zM20 296h2v1h-2zM117 296h1v1h-1zM426 296h1v1h-1zM644 296h1v1h-1zM889 296h1v1h-1zM18 297h2v1h-2zM117 297h1v1h-1zM426 297h1v1h-1zM644 297h1v1h-1zM889 297h1v1h-1zM17 298h1v1h-1zM118 298h1v1h-1zM425 298h1v1h-1zM644 298h1v1h-1zM888 298h1v1h-1zM16 299h1v1h-1zM118 299h1v1h-1zM425 299h1v1h-1zM645 299h1v1h-1zM888 299h1v1h-1zM14 300h2v1h-2zM118 300h1v1h-1zM424 300h1v1h-1zM645 300h1v1h-1zM888 300h1v1h-1zM13 301h1v1h-1zM119 301h1v1h-1zM424 301h1v1h-1zM646 301h1v1h-1zM887 301h1v1h-1zM12 302h1v1h-1zM119 302h1v1h-1zM423 302h1v1h-1zM646 302h1v1h-1zM887 302h1v1h-1zM11 303h1v1h-1zM120 303h1v1h-1zM423 303h1v1h-1zM647 303h1v1h-1zM887 303h1v1h-1zM10 304h1v1h-1zM120 304h1v1h-1zM422 304h1v1h-1zM647 304h1v1h-1zM887 304h1v1h-1zM8 305h2v1h-2zM120 305h1v1h-1zM422 305h1v1h-1zM648 305h1v1h-1zM886 305h1v1h-1zM7 306h1v1h-1zM121 306h1v1h-1zM421 306h1v1h-1zM648 306h1v1h-1zM886 306h1v1h-1zM6 307h1v1h-1zM121 307h1v1h-1zM421 307h1v1h-1zM648 307h1v1h-1zM886 307h1v1h-1zM5 308h1v1h-1zM122 308h1v1h-1zM420 308h1v1h-1zM649 308h1v1h-1zM885 308h1v1h-1zM4 309h1v1h-1zM122 309h1v1h-1zM419 309h1v1h-1zM649 309h1v1h-1zM885 309h1v1h-1zM122 310h1v1h-1zM418 310h1v1h-1zM650 310h1v1h-1zM885 310h1v1h-1zM123 311h1v1h-1zM292 311h1v1h-1zM418 311h1v1h-1zM650 311h1v1h-1zM885 311h1v1h-1zM123 312h1v1h-1zM290 312h2v1h-2zM293 312h1v1h-1zM417 312h1v1h-1zM651 312h1v1h-1zM884 312h1v1h-1zM124 313h1v1h-1zM288 313h2v1h-2zM294 313h2v1h-2zM416 313h1v1h-1zM651 313h1v1h-1zM884 313h1v1h-1zM124 314h1v1h-1zM287 314h1v1h-1zM296 314h1v1h-1zM415 314h1v1h-1zM652 314h1v1h-1zM884 314h1v1h-1zM125 315h1v1h-1zM285 315h2v1h-2zM297 315h1v1h-1zM414 315h1v1h-1zM652 315h1v1h-1zM883 315h1v1h-1zM125 316h1v1h-1zM284 316h1v1h-1zM298 316h2v1h-2zM414 316h1v1h-1zM652 316h1v1h-1zM883 316h1v1h-1zM126 317h1v1h-1zM282 317h2v1h-2zM300 317h1v1h-1zM413 317h1v1h-1zM653 317h1v1h-1zM882 317h1v1h-1zM126 318h1v1h-1zM280 318h2v1h-2zM301 318h1v1h-1zM412 318h1v1h-1zM653 318h1v1h-1zM882 318h1v1h-1zM127 319h1v1h-1zM279 319h1v1h-1zM302 319h2v1h-2zM411 319h1v1h-1zM654 319h1v1h-1zM882 319h1v1h-1zM128 320h1v1h-1zM277 320h2v1h-2zM304 320h1v1h-1zM410 320h1v1h-1zM654 320h1v1h-1zM881 320h1v1h-1zM128 321h1v1h-1zM275 321h2v1h-2zM305 321h1v1h-1zM409 321h1v1h-1zM654 321h1v1h-1zM881 321h1v1h-1zM129 322h1v1h-1zM272 322h3v1h-3zM306 322h2v1h-2zM408 322h1v1h-1zM655 322h1v1h-1zM880 322h1v1h-1zM130 323h1v1h-1zM270 323h2v1h-2zM308 323h2v1h-2zM407 323h1v1h-1zM655 323h1v1h-1zM880 323h1v1h-1zM130 324h1v1h-1zM264 324h6v1h-6zM310 324h2v1h-2zM406 324h1v1h-1zM656 324h1v1h-1zM880 324h1v1h-1zM131 325h1v1h-1zM256 325h8v1h-8zM312 325h3v1h-3zM405 325h1v1h-1zM656 325h1v1h-1zM879 325h1v1h-1zM131 326h1v1h-1zM252 326h4v1h-4zM315 326h3v1h-3zM404 326h1v1h-1zM656 326h1v1h-1zM879 326h1v1h-1zM132 327h1v1h-1zM250 327h2v1h-2zM318 327h2v1h-2zM403 327h1v1h-1zM657 327h1v1h-1zM878 327h1v1h-1zM133 328h1v1h-1zM248 328h2v1h-2zM320 328h3v1h-3zM402 328h1v1h-1zM657 328h1v1h-1zM878 328h1v1h-1zM134 329h1v1h-1zM247 329h1v1h-1zM323 329h2v1h-2zM400 329h2v1h-2zM658 329h1v1h-1zM878 329h1v1h-1zM135 330h1v1h-1zM245 330h2v1h-2zM325 330h2v1h-2zM399 330h1v1h-1zM658 330h1v1h-1zM877 330h1v1h-1zM136 331h2v1h-2zM244 331h1v1h-1zM327 331h2v1h-2zM398 331h1v1h-1zM658 331h1v1h-1zM877 331h1v1h-1zM138 332h1v1h-1zM242 332h2v1h-2zM329 332h2v1h-2zM397 332h1v1h-1zM659 332h1v1h-1zM876 332h1v1h-1zM139 333h1v1h-1zM240 333h2v1h-2zM331 333h2v1h-2zM396 333h1v1h-1zM659 333h1v1h-1zM876 333h1v1h-1zM140 334h1v1h-1zM239 334h1v1h-1zM333 334h1v1h-1zM395 334h1v1h-1zM660 334h1v1h-1zM875 334h1v1h-1zM141 335h1v1h-1zM237 335h2v1h-2zM333 335h1v1h-1zM394 335h1v1h-1zM660 335h1v1h-1zM875 335h1v1h-1zM142 336h1v1h-1zM235 336h2v1h-2zM334 336h1v1h-1zM393 336h1v1h-1zM661 336h1v1h-1zM874 336h1v1h-1zM143 337h1v1h-1zM233 337h2v1h-2zM335 337h1v1h-1zM392 337h1v1h-1zM661 337h1v1h-1zM874 337h1v1h-1zM144 338h2v1h-2zM231 338h2v1h-2zM336 338h1v1h-1zM391 338h1v1h-1zM662 338h1v1h-1zM873 338h1v1h-1zM146 339h1v1h-1zM229 339h2v1h-2zM336 339h1v1h-1zM390 339h1v1h-1zM662 339h1v1h-1zM872 339h1v1h-1zM147 340h1v1h-1zM224 340h5v1h-5zM337 340h1v1h-1zM389 340h1v1h-1zM663 340h1v1h-1zM872 340h1v1h-1zM148 341h1v1h-1zM218 341h6v1h-6zM338 341h1v1h-1zM388 341h1v1h-1zM663 341h1v1h-1zM871 341h1v1h-1zM149 342h1v1h-1zM214 342h4v1h-4zM339 342h1v1h-1zM386 342h2v1h-2zM664 342h1v1h-1zM870 342h1v1h-1zM150 343h2v1h-2zM211 343h3v1h-3zM339 343h1v1h-1zM385 343h1v1h-1zM664 343h1v1h-1zM870 343h1v1h-1zM152 344h1v1h-1zM209 344h2v1h-2zM340 344h1v1h-1zM384 344h1v1h-1zM665 344h1v1h-1zM869 344h1v1h-1zM153 345h1v1h-1zM207 345h2v1h-2zM341 345h1v1h-1zM382 345h2v1h-2zM665 345h1v1h-1zM869 345h1v1h-1zM154 346h2v1h-2zM205 346h2v1h-2zM342 346h1v1h-1zM381 346h1v1h-1zM666 346h1v1h-1zM868 346h1v1h-1zM156 347h1v1h-1zM202 347h3v1h-3zM343 347h1v1h-1zM379 347h2v1h-2zM666 347h1v1h-1zM867 347h1v1h-1zM157 348h2v1h-2zM198 348h4v1h-4zM344 348h1v1h-1zM376 348h3v1h-3zM667 348h1v1h-1zM866 348h1v1h-1zM159 349h2v1h-2zM192 349h6v1h-6zM345 349h1v1h-1zM374 349h2v1h-2zM667 349h1v1h-1zM865 349h1v1h-1zM161 350h2v1h-2zM186 350h6v1h-6zM346 350h1v1h-1zM371 350h3v1h-3zM668 350h2v1h-2zM864 350h1v1h-1zM163 351h2v1h-2zM182 351h4v1h-4zM347 351h1v1h-1zM368 351h3v1h-3zM670 351h2v1h-2zM864 351h1v1h-1zM165 352h2v1h-2zM179 352h3v1h-3zM348 352h2v1h-2zM366 352h2v1h-2zM672 352h3v1h-3zM863 352h1v1h-1zM167 353h2v1h-2zM176 353h3v1h-3zM350 353h4v1h-4zM360 353h6v1h-6zM675 353h3v1h-3zM862 353h1v1h-1zM169 354h2v1h-2zM174 354h2v1h-2zM354 354h6v1h-6zM678 354h2v1h-2zM861 354h1v1h-1zM171 355h3v1h-3zM680 355h3v1h-3zM860 355h1v1h-1zM683 356h2v1h-2zM859 356h1v1h-1zM685 357h1v1h-1zM858 357h1v1h-1zM686 358h1v1h-1zM857 358h1v1h-1zM687 359h1v1h-1zM856 359h1v1h-1zM688 360h2v1h-2zM855 360h1v1h-1zM690 361h1v1h-1zM854 361h1v1h-1zM691 362h1v1h-1zM853 362h1v1h-1zM692 363h1v1h-1zM852 363h1v1h-1zM693 364h1v1h-1zM851 364h1v1h-1zM694 365h1v1h-1zM850 365h1v1h-1zM695 366h1v1h-1zM849 366h1v1h-1zM696 367h2v1h-2zM848 367h1v1h-1zM698 368h1v1h-1zM848 368h1v1h-1zM699 369h1v1h-1zM847 369h1v1h-1zM700 370h1v1h-1zM846 370h1v1h-1zM701 371h1v1h-1zM845 371h1v1h-1zM702 372h2v1h-2zM844 372h1v1h-1zM704 373h1v1h-1zM843 373h1v1h-1zM705 374h1v1h-1zM842 374h1v1h-1zM706 375h2v1h-2zM841 375h1v1h-1zM708 376h1v1h-1zM840 376h1v1h-1zM709 377h1v1h-1zM840 377h1v1h-1zM710 378h1v1h-1zM839 378h1v1h-1zM711 379h1v1h-1zM838 379h1v1h-1zM712 380h1v1h-1zM837 380h1v1h-1zM713 381h1v1h-1zM835 381h2v1h-2zM714 382h1v1h-1zM833 382h2v1h-2zM715 383h1v1h-1zM831 383h2v1h-2zM716 384h1v1h-1zM768 384h8v1h-8zM829 384h2v1h-2zM717 385h1v1h-1zM762 385h6v1h-6zM776 385h6v1h-6zM828 385h1v1h-1zM718 386h1v1h-1zM758 386h4v1h-4zM782 386h4v1h-4zM826 386h2v1h-2zM718 387h1v1h-1zM755 387h3v1h-3zM786 387h3v1h-3zM825 387h1v1h-1zM719 388h1v1h-1zM752 388h3v1h-3zM789 388h1v1h-1zM824 388h1v1h-1zM720 389h1v1h-1zM750 389h2v1h-2zM790 389h1v1h-1zM822 389h2v1h-2zM721 390h1v1h-1zM748 390h2v1h-2zM791 390h1v1h-1zM821 390h1v1h-1zM722 391h1v1h-1zM746 391h2v1h-2zM792 391h2v1h-2zM819 391h2v1h-2zM722 392h1v1h-1zM745 392h1v1h-1zM794 392h1v1h-1zM817 392h2v1h-2zM723 393h1v1h-1zM744 393h1v1h-1zM795 393h1v1h-1zM815 393h2v1h-2zM724 394h1v1h-1zM742 394h2v1h-2zM796 394h2v1h-2zM813 394h2v1h-2zM725 395h1v1h-1zM741 395h1v1h-1zM798 395h4v1h-4zM808 395h5v1h-5zM726 396h1v1h-1zM740 396h1v1h-1zM802 396h6v1h-6zM727 397h1v1h-1zM738 397h2v1h-2zM728 398h2v1h-2zM736 398h2v1h-2zM730 399h1v1h-1zM735 399h1v1h-1zM731 400h1v1h-1zM733 400h2v1h-2zM732 401h1v1h-1z" fill="#3cb371"/>
<rect x="4" y="146" width="1" height="55" fill="#ff0000"/>
<rect x="4" y="147" width="3" height="43" fill="#ff0000"/>
<rect x="4" y="148" width="2" height="41" fill="#ff4500"/>
<rect x="12" y="134" width="1" height="29" fill="#ff0000"/>
<rect x="10" y="145" width="5" height="3" fill="#ff0000"/>
<rect x="11" y="146" width="3" height="1" fill="#ff4500"/>
<rect x="20" y="123" width="1" height="33" fill="#ff0000"/>
<rect x="18" y="144" width="5" height="2" fill="#ff0000"/>
<rect x="28" y="137" width="1" height="9" fill="#ff0000"/>
<rect x="26" y="139" width="5" height="6" fill="#ff0000"/>
<rect x="27" y="140" width="3" height="4" fill="#ff4500"/>
<rect x="36" y="140" width="1" height="24" fill="#32cd32"/>
<rect x="34" y="149" width="5" height="7" fill="#32cd32"/>
<rect x="44" y="154" width="1" height="22" fill="#32cd32"/>
<rect x="42" y="155" width="5" height="10" fill="#32cd32"/>
<rect x="52" y="139" width="1" height="34" fill="#ff0000"/>
<rect x="50" y="158" width="5" height="7" fill="#ff0000"/>
<rect x="51" y="159" width="3" height="5" fill="#ff4500"/>
<rect x="60" y="115" width="1" height="82" fill="#32cd32"/>
<rect x="58" y="158" width="5" height="33" fill="#32cd32"/>
<rect x="68" y="171" width="1" height="32" fill="#ff0000"/>
<rect x="66" y="175" width="5" height="16" fill="#ff0000"/>
<rect x="67" y="176" width="3" height="14" fill="#ff4500"/>
<rect x="76" y="173" width="1" height="15" fill="#32cd32"/>
<rect x="74" y="175" width="5" height="12" fill="#32cd32"/>
<rect x="84" y="179" width="1" height="20" fill="#32cd32"/>
<rect x="82" y="181" width="5" height="7" fill="#32cd32"/>
<rect x="92" y="174" width="1" height="60" fill="#32cd32"/>
<rect x="90" y="187" width="5" height="19" fill="#32cd32"/>
<rect x="100" y="201" width="1" height="54" fill="#32cd32"/>
<rect x="98" y="205" width="5" height="48" fill="#32cd32"/>
<rect x="108" y="250" width="1" height="58" fill="#32cd32"/>
<rect x="106" y="252" width="5" height="48" fill="#32cd32"/>
<rect x="116" y="291" width="1" height="32" fill="#32cd32"/>
<rect x="114" y="298" width="5" height="25" fill="#32cd32"/>
<rect x="124" y="317" width="1" height="9" fill="#ff0000"/>
<rect x="122" y="318" width="5" height="5" fill="#ff0000"/>
<rect x="123" y="319" width="3" height="3" fill="#ff4500"/>
<rect x="132" y="298" width="1" height="29" fill="#ff0000"/>
<rect x="130" y="310" width="5" height="8" fill="#ff0000"/>
<rect x="131" y="311" width="3" height="6" fill="#ff4500"/>
<rect x="140" y="285" width="1" height="32" fill="#ff0000"/>
<rect x="138" y="288" width="5" height="22" fill="#ff0000"/>
<rect x="139" y="289" width="3" height="20" fill="#ff4500"/>
<rect x="148" y="257" width="1" height="37" fill="#ff0000"/>
<rect x="146" y="282" width="5" height="7" fill="#ff0000"/>
<rect x="147" y="283" width="3" height="5" fill="#ff4500"/>
<rect x="156" y="258" width="1" height="68" fill="#ff0000"/>
<rect x="154" y="271" width="5" height="11" fill="#ff0000"/>
<rect x="155" y="272" width="3" height="9" fill="#ff4500"/>
<rect x="164" y="250" width="1" height="31" fill="#ff0000"/>
<rect x="162" y="269" width="5" height="3" fill="#ff0000"/>
<rect x="163" y="270" width="3" height="1" fill="#ff4500"/>
<rect x="172" y="267" width="1" height="13" fill="#32cd32"/>
<rect x="170" y="269" width="5" height="8" fill="#32cd32"/>
<rect x="180" y="243" width="1" height="40" fill="#ff0000"/>
<rect x="178" y="248" width="5" height="30" fill="#ff0000"/>
<rect x="179" y="249" width="3" height="28" fill="#ff4500"/>
<rect x="188" y="240" width="1" height="33" fill="#32cd32"/>
<rect x="186" y="248" width="5" height="4" fill="#32cd32"/>
<rect x="196" y="235" width="1" height="38" fill="#32cd32"/>
<rect x="194" y="250" width="5" height="9" fill="#32cd32"/>
<rect x="204" y="241" width="1" height="37" fill="#32cd32"/>
<rect x="202" y="258" width="5" height="11" fill="#32cd32"/>
<rect x="212" y="242" width="1" height="48" fill="#ff0000"/>
<rect x="210" y="256" width="5" height="13" fill="#ff0000"/>
<rect x="211" y="257" width="3" height="11" fill="#ff4500"/>
<rect x="220" y="256" width="1" height="12" fill="#32cd32"/>
<rect x="218" y="256" width="5" height="12" fill="#32cd32"/>
<rect x="228" y="261" width="1" height="34" fill="#32cd32"/>
<rect x="226" y="271" width="5" height="22" fill="#32cd32"/>
<rect x="236" y="289" width="1" height="27" fill="#32cd32"/>
<rect x="234" y="292" width="5" height="11" fill="#32cd32"/>
<rect x="244" y="277" width="1" height="30" fill="#32cd32"/>
<rect x="242" y="302" width="5" height="2" fill="#32cd32"/>
<rect x="252" y="281" width="1" height="35" fill="#ff0000"/>
<rect x="250" y="293" width="5" height="10" fill="#ff0000"/>
<rect x="251" y="294" width="3" height="8" fill="#ff4500"/>
<rect x="260" y="290" width="1" height="53" fill="#ff0000"/>
<rect x="258" y="292" width="5" height="3" fill="#ff0000"/>
<rect x="259" y="293" width="3" height="1" fill="#ff4500"/>
<rect x="268" y="278" width="1" height="15" fill="#ff0000"/>
<rect x="266" y="286" width="5" height="7" fill="#ff0000"/>
<rect x="267" y="287" width="3" height="5" fill="#ff4500"/>
<rect x="276" y="274" width="1" height="29" fill="#32cd32"/>
<rect x="274" y="282" width="5" height="20" fill="#32cd32"/>
<rect x="284" y="264" width="1" height="56" fill="#ff0000"/>
<rect x="282" y="272" width="5" height="30" fill="#ff0000"/>
<rect x="283" y="273" width="3" height="28" fill="#ff4500"/>
<rect x="292" y="268" width="1" height="35" fill="#32cd32"/>
<rect x="290" y="272" width="5" height="18" fill="#32cd32"/>
<rect x="300" y="196" width="1" height="111" fill="#ff0000"/>
<rect x="298" y="212" width="5" height="78" fill="#ff0000"/>
<rect x="299" y="213" width="3" height="76" fill="#ff4500"/>
<rect x="308" y="158" width="1" height="57" fill="#ff0000"/>
<rect x="306" y="205" width="5" height="8" fill="#ff0000"/>
<rect x="307" y="206" width="3" height="6" fill="#ff4500"/>
<rect x="316" y="203" width="1" height="15" fill="#32cd32"/>
<rect x="314" y="205" width="5" height="7" fill="#32cd32"/>
<rect x="324" y="192" width="1" height="26" fill="#ff0000"/>
<rect x="322" y="198" width="5" height="14" fill="#ff0000"/>
<rect x="323" y="199" width="3" height="12" fill="#ff4500"/>
<rect x="332" y="172" width="1" height="36" fill="#ff0000"/>
<rect x="330" y="183" width="5" height="16" fill="#ff0000"/>
<rect x="331" y="184" width="3" height="14" fill="#ff4500"/>
<rect x="340" y="126" width="1" height="68" fill="#ff0000"/>
<rect x="338" y="141" width="5" height="43" fill="#ff0000"/>
<rect x="339" y="142" width="3" height="41" fill="#ff4500"/>
<rect x="348" y="124" width="1" height="30" fill="#ff0000"/>
<rect x="346" y="133" width="5" height="8" fill="#ff0000"/>
<rect x="347" y="134" width="3" height="6" fill="#ff4500"/>
<rect x="356" y="129" width="1" height="50" fill="#32cd32"/>
<rect x="354" y="133" width="5" height="34" fill="#32cd32"/>
<rect x="364" y="164" width="1" height="26" fill="#32cd32"/>
<rect x="362" y="166" width="5" height="18" fill="#32cd32"/>
<rect x="372" y="174" width="1" height="40" fill="#32cd32"/>
<rect x="370" y="192" width="5" height="11" fill="#32cd32"/>
<rect x="380" y="189" width="1" height="43" fill="#ff0000"/>
<rect x="378" y="197" width="5" height="6" fill="#ff0000"/>
<rect x="379" y="198" width="3" height="4" fill="#ff4500"/>
<rect x="388" y="174" width="1" height="40" fill="#ff0000"/>
<rect x="386" y="190" width="5" height="8" fill="#ff0000"/>
<rect x="387" y="191" width="3" height="6" fill="#ff4500"/>
<rect x="396" y="127" width="1" height="70" fill="#ff0000"/>
<rect x="394" y="158" width="5" height="33" fill="#ff0000"/>
<rect x="395" y="159" width="3" height="31" fill="#ff4500"/>
<rect x="404" y="111" width="1" height="55" fill="#ff0000"/>
<rect x="402" y="116" width="5" height="43" fill="#ff0000"/>
<rect x="403" y="117" width="3" height="41" fill="#ff4500"/>
<rect x="412" y="99" width="1" height="22" fill="#ff0000"/>
<rect x="410" y="102" width="5" height="15" fill="#ff0000"/>
<rect x="411" y="103" width="3" height="13" fill="#ff4500"/>
<rect x="420" y="106" width="1" height="32" fill="#32cd32"/>
<rect x="418" y="116" width="5" height="10" fill="#32cd32"/>
<rect x="428" y="123" width="1" height="56" fill="#32cd32"/>
<rect x="426" y="125" width="5" height="33" fill="#32cd32"/>
<rect x="436" y="144" width="1" height="58" fill="#ff0000"/>
<rect x="434" y="156" width="5" height="3" fill="#ff0000"/>
<rect x="435" y="157" width="3" height="1" fill="#ff4500"/>
<rect x="444" y="144" width="1" height="34" fill="#32cd32"/>
<rect x="442" y="156" width="5" height="12" fill="#32cd32"/>
<rect x="452" y="158" width="1" height="32" fill="#32cd32"/>
<rect x="450" y="167" width="5" height="16" fill="#32cd32"/>
<rect x="460" y="176" width="1" height="12" fill="#32cd32"/>
<rect x="458" y="182" width="5" height="2" fill="#32cd32"/>
<rect x="468" y="145" width="1" height="40" fill="#ff0000"/>
<rect x="466" y="177" width="5" height="1" fill="#ff0000"/>
<rect x="476" y="150" width="1" height="45" fill="#32cd32"/>
<rect x="474" y="177" width="5" height="11" fill="#32cd32"/>
<rect x="484" y="167" width="1" height="38" fill="#ff0000"/>
<rect x="482" y="186" width="5" height="2" fill="#ff0000"/>
<rect x="492" y="92" width="1" height="96" fill="#ff0000"/>
<rect x="490" y="116" width="5" height="71" fill="#ff0000"/>
<rect x="491" y="117" width="3" height="69" fill="#ff4500"/>
<rect x="500" y="104" width="1" height="35" fill="#32cd32"/>
<rect x="498" y="116" width="5" height="9" fill="#32cd32"/>
<rect x="508" y="114" width="1" height="18" fill="#32cd32"/>
<rect x="506" y="124" width="5" height="1" fill="#32cd32"/>
<rect x="516" y="54" width="1" height="35" fill="#32cd32"/>
<rect x="514" y="78" width="5" height="5" fill="#32cd32"/>
<rect x="524" y="54" width="1" height="37" fill="#32cd32"/>
<rect x="522" y="81" width="5" height="4" fill="#32cd32"/>
<rect x="532" y="79" width="1" height="79" fill="#32cd32"/>
<rect x="530" y="84" width="5" height="68" fill="#32cd32"/>
<rect x="540" y="145" width="1" height="66" fill="#32cd32"/>
<rect x="538" y="150" width="5" height="45" fill="#32cd32"/>
<rect x="548" y="171" width="1" height="30" fill="#ff0000"/>
<rect x="546" y="190" width="5" height="5" fill="#ff0000"/>
<rect x="547" y="191" width="3" height="3" fill="#ff4500"/>
<rect x="556" y="187" width="1" height="19" fill="#32cd32"/>
<rect x="554" y="190" width="5" height="7" fill="#32cd32"/>
<rect x="564" y="183" width="1" height="38" fill="#32cd32"/>
<rect x="562" y="214" width="5" height="3" fill="#32cd32"/>
<rect x="572" y="184" width="1" height="36" fill="#ff0000"/>
<rect x="570" y="202" width="5" height="14" fill="#ff0000"/>
<rect x="571" y="203" width="3" height="12" fill="#ff4500"/>
<rect x="580" y="180" width="1" height="31" fill="#ff0000"/>
<rect x="578" y="183" width="5" height="20" fill="#ff0000"/>
<rect x="579" y="184" width="3" height="18" fill="#ff4500"/>
<rect x="588" y="167" width="1" height="30" fill="#32cd32"/>
<rect x="586" y="183" width="5" height="1" fill="#32cd32"/>
<rect x="596" y="176" width="1" height="66" fill="#32cd32"/>
<rect x="594" y="182" width="5" height="45" fill="#32cd32"/>
<rect x="604" y="218" width="1" height="9" fill="#ff0000"/>
<rect x="602" y="220" width="5" height="7" fill="#ff0000"/>
<rect x="603" y="221" width="3" height="5" fill="#ff4500"/>
<rect x="612" y="215" width="1" height="14" fill="#ff0000"/>
<rect x="610" y="218" width="5" height="7" fill="#ff0000"/>
<rect x="611" y="219" width="3" height="5" fill="#ff4500"/>
<rect x="620" y="201" width="1" height="26" fill="#32cd32"/>
<rect x="618" y="218" width="5" height="8" fill="#32cd32"/>
<rect x="628" y="203" width="1" height="28" fill="#ff0000"/>
<rect x="626" y="222" width="5" height="4" fill="#ff0000"/>
<rect x="627" y="223" width="3" height="2" fill="#ff4500"/>
<rect x="636" y="217" width="1" height="76" fill="#32cd32"/>
<rect x="634" y="222" width="5" height="52" fill="#32cd32"/>
<rect x="644" y="262" width="1" height="41" fill="#32cd32"/>
<rect x="642" y="273" width="5" height="24" fill="#32cd32"/>
<rect x="652" y="293" width="1" height="34" fill="#32cd32"/>
<rect x="650" y="296" width="5" height="28" fill="#32cd32"/>
<rect x="660" y="305" width="1" height="25" fill="#ff0000"/>
<rect x="658" y="321" width="5" height="9" fill="#ff0000"/>
<rect x="659" y="322" width="3" height="7" fill="#ff4500"/>
<rect x="668" y="313" width="1" height="18" fill="#32cd32"/>
<rect x="666" y="321" width="5" height="8" fill="#32cd32"/>
<rect x="676" y="307" width="1" height="27" fill="#ff0000"/>
<rect x="674" y="317" width="5" height="12" fill="#ff0000"/>
<rect x="675" y="318" width="3" height="10" fill="#ff4500"/>
<rect x="684" y="298" width="1" height="48" fill="#32cd32"/>
<rect x="682" y="317" width="5" height="22" fill="#32cd32"/>
<rect x="692" y="305" width="1" height="41" fill="#ff0000"/>
<rect x="690" y="329" width="5" height="10" fill="#ff0000"/>
<rect x="691" y="330" width="3" height="8" fill="#ff4500"/>
<rect x="700" y="321" width="1" height="11" fill="#ff0000"/>
<rect x="698" y="322" width="5" height="8" fill="#ff0000"/>
<rect x="699" y="323" width="3" height="6" fill="#ff4500"/>
<rect x="708" y="303" width="1" height="26" fill="#32cd32"/>
<rect x="706" y="325" width="5" height="3" fill="#32cd32"/>
<rect x="716" y="315" width="1" height="19" fill="#32cd32"/>
<rect x="714" y="328" width="5" height="2" fill="#32cd32"/>
<rect x="724" y="320" width="1" height="53" fill="#32cd32"/>
<rect x="722" y="325" width="5" height="36" fill="#32cd32"/>
<rect x="732" y="350" width="1" height="139" fill="#32cd32"/>
<rect x="730" y="359" width="5" height="1" fill="#32cd32"/>
<rect x="740" y="277" width="1" height="91" fill="#ff0000"/>
<rect x="738" y="277" width="5" height="83" fill="#ff0000"/>
<rect x="739" y="278" width="3" height="81" fill="#ff4500"/>
<rect x="748" y="262" width="1" height="22" fill="#ff0000"/>
<rect x="746" y="268" width="5" height="10" fill="#ff0000"/>
<rect x="747" y="269" width="3" height="8" fill="#ff4500"/>
<rect x="756" y="249" width="1" height="22" fill="#ff0000"/>
<rect x="754" y="252" width="5" height="17" fill="#ff0000"/>
<rect x="755" y="253" width="3" height="15" fill="#ff4500"/>
<rect x="764" y="242" width="1" height="27" fill="#32cd32"/>
<rect x="762" y="252" width="5" height="8" fill="#32cd32"/>
<rect x="772" y="208" width="1" height="54" fill="#ff0000"/>
<rect x="770" y="230" width="5" height="30" fill="#ff0000"/>
<rect x="771" y="231" width="3" height="28" fill="#ff4500"/>
<rect x="780" y="205" width="1" height="41" fill="#ff0000"/>
<rect x="778" y="210" width="5" height="21" fill="#ff0000"/>
<rect x="779" y="211" width="3" height="19" fill="#ff4500"/>
<rect x="788" y="176" width="1" height="50" fill="#ff0000"/>
<rect x="786" y="203" width="5" height="8" fill="#ff0000"/>
<rect x="787" y="204" width="3" height="6" fill="#ff4500"/>
<rect x="796" y="195" width="1" height="12" fill="#ff0000"/>
<rect x="794" y="198" width="5" height="6" fill="#ff0000"/>
<rect x="795" y="199" width="3" height="4" fill="#ff4500"/>
<rect x="804" y="190" width="1" height="33" fill="#32cd32"/>
<rect x="802" y="196" width="5" height="4" fill="#32cd32"/>
<rect x="812" y="183" width="1" height="32" fill="#32cd32"/>
<rect x="810" y="199" width="5" height="3" fill="#32cd32"/>
<rect x="820" y="194" width="1" height="40" fill="#32cd32"/>
<rect x="818" y="200" width="5" height="20" fill="#32cd32"/>
<rect x="828" y="213" width="1" height="33" fill="#32cd32"/>
<rect x="826" y="218" width="5" height="19" fill="#32cd32"/>
<rect x="836" y="187" width="1" height="50" fill="#ff0000"/>
<rect x="834" y="216" width="5" height="20" fill="#ff0000"/>
<rect x="835" y="217" width="3" height="18" fill="#ff4500"/>
<rect x="844" y="214" width="1" height="17" fill="#32cd32"/>
<rect x="842" y="216" width="5" height="13" fill="#32cd32"/>
<rect x="852" y="218" width="1" height="33" fill="#32cd32"/>
<rect x="850" y="233" width="5" height="7" fill="#32cd32"/>
<rect x="860" y="234" width="1" height="32" fill="#32cd32"/>
<rect x="858" y="239" width="5" height="15" fill="#32cd32"/>
<rect x="868" y="247" width="1" height="23" fill="#32cd32"/>
<rect x="866" y="252" width="5" height="5" fill="#32cd32"/>
<rect x="876" y="229" width="1" height="65" fill="#32cd32"/>
<rect x="874" y="256" width="5" height="23" fill="#32cd32"/>
<rect x="884" y="222" width="1" height="78" fill="#ff0000"/>
<rect x="882" y="230" width="5" height="49" fill="#ff0000"/>
<rect x="883" y="231" width="3" height="47" fill="#ff4500"/>
<rect x="892" y="216" width="1" height="15" fill="#ff0000"/>
<rect x="890" y="220" width="5" height="11" fill="#ff0000"/>
<rect x="891" y="221" width="3" height="9" fill="#ff4500"/>
<rect x="900" y="200" width="1" height="33" fill="#32cd32"/>
<rect x="898" y="219" width="5" height="11" fill="#32cd32"/>
<rect x="908" y="224" width="1" height="29" fill="#32cd32"/>
<rect x="906" y="229" width="5" height="7" fill="#32cd32"/>
<rect x="583" y="165" width="447" height="2" fill="#fb2222"/>
<rect x="583" y="284" width="445" height="2" fill="#8cc800"/>
<rect x="590" y="360" width="437" height="2" fill="#2080e0"/>
<path d="M344 534h5v1h-5zM340 535h4v1h-4zM349 535h1v1h-1zM338 536h2v1h-2zM350 536h1v1h-1zM410 536h3v1h-3zM337 537h1v1h-1zM350 537h1v1h-1zM406 537h4v1h-4zM413 537h1v1h-1zM336 538h1v1h-1zM351 538h1v1h-1zM404 538h2v1h-2zM414 538h2v1h-2zM516 538h4v1h-4zM334 539h2v1h-2zM352 539h1v1h-1zM402 539h2v1h-2zM416 539h1v1h-1zM515 539h1v1h-1zM520 539h5v1h-5zM333 540h1v1h-1zM353 540h1v1h-1zM401 540h1v1h-1zM417 540h1v1h-1zM514 540h1v1h-1zM525 540h1v1h-1zM331 541h2v1h-2zM354 541h1v1h-1zM400 541h1v1h-1zM418 541h2v1h-2zM512 541h2v1h-2zM525 541h1v1h-1zM328 542h3v1h-3zM354 542h1v1h-1zM398 542h2v1h-2zM420 542h1v1h-1zM511 542h1v1h-1zM526 542h1v1h-1zM326 543h2v1h-2zM355 543h1v1h-1zM397 543h1v1h-1zM421 543h1v1h-1zM492 543h2v1h-2zM510 543h1v1h-1zM526 543h1v1h-1zM792 543h16v1h-16zM306 544h4v1h-4zM322 544h4v1h-4zM356 544h1v1h-1zM396 544h1v1h-1zM422 544h1v1h-1zM491 544h1v1h-1zM494 544h4v1h-4zM509 544h1v1h-1zM527 544h1v1h-1zM784 544h8v1h-8zM808 544h5v1h-5zM302 545h4v1h-4zM310 545h4v1h-4zM318 545h4v1h-4zM357 545h2v1h-2zM394 545h2v1h-2zM423 545h1v1h-1zM491 545h1v1h-1zM498 545h11v1h-11zM527 545h1v1h-1zM779 545h5v1h-5zM813 545h2v1h-2zM300 546h2v1h-2zM314 546h4v1h-4zM359 546h2v1h-2zM393 546h1v1h-1zM424 546h1v1h-1zM490 546h1v1h-1zM528 546h1v1h-1zM776 546h3v1h-3zM815 546h1v1h-1zM300 547h1v1h-1zM361 547h2v1h-2zM392 547h1v1h-1zM425 547h1v1h-1zM490 547h1v1h-1zM528 547h1v1h-1zM774 547h2v1h-2zM816 547h2v1h-2zM299 548h1v1h-1zM363 548h2v1h-2zM390 548h2v1h-2zM426 548h1v1h-1zM489 548h1v1h-1zM529 548h1v1h-1zM772 548h2v1h-2zM818 548h2v1h-2zM299 549h1v1h-1zM365 549h2v1h-2zM389 549h1v1h-1zM427 549h1v1h-1zM489 549h1v1h-1zM529 549h1v1h-1zM770 549h2v1h-2zM820 549h1v1h-1zM24 550h5v1h-5zM298 550h1v1h-1zM367 550h2v1h-2zM386 550h3v1h-3zM428 550h10v1h-10zM488 550h1v1h-1zM530 550h1v1h-1zM769 550h1v1h-1zM821 550h2v1h-2zM835 550h3v1h-3zM4 551h20v1h-20zM29 551h2v1h-2zM298 551h1v1h-1zM369 551h2v1h-2zM382 551h4v1h-4zM438 551h4v1h-4zM487 551h1v1h-1zM530 551h1v1h-1zM768 551h1v1h-1zM823 551h1v1h-1zM833 551h2v1h-2zM838 551h2v1h-2zM890 551h4v1h-4zM31 552h2v1h-2zM297 552h1v1h-1zM371 552h11v1h-11zM442 552h3v1h-3zM487 552h1v1h-1zM531 552h1v1h-1zM755 552h3v1h-3zM766 552h2v1h-2zM824 552h2v1h-2zM831 552h2v1h-2zM840 552h3v1h-3zM886 552h4v1h-4zM894 552h4v1h-4zM33 553h2v1h-2zM297 553h1v1h-1zM445 553h2v1h-2zM486 553h1v1h-1zM531 553h1v1h-1zM752 553h3v1h-3zM758 553h4v1h-4zM765 553h1v1h-1zM826 553h2v1h-2zM829 553h2v1h-2zM843 553h3v1h-3zM884 553h2v1h-2zM898 553h4v1h-4zM35 554h5v1h-5zM48 554h5v1h-5zM296 554h1v1h-1zM447 554h2v1h-2zM486 554h1v1h-1zM532 554h1v1h-1zM750 554h2v1h-2zM762 554h3v1h-3zM828 554h1v1h-1zM846 554h2v1h-2zM883 554h1v1h-1zM902 554h4v1h-4zM40 555h8v1h-8zM53 555h1v1h-1zM296 555h1v1h-1zM449 555h2v1h-2zM464 555h6v1h-6zM485 555h1v1h-1zM532 555h1v1h-1zM746 555h4v1h-4zM848 555h3v1h-3zM883 555h1v1h-1zM906 555h3v1h-3zM54 556h1v1h-1zM296 556h1v1h-1zM451 556h13v1h-13zM470 556h4v1h-4zM485 556h1v1h-1zM533 556h1v1h-1zM742 556h4v1h-4zM851 556h2v1h-2zM882 556h1v1h-1zM55 557h1v1h-1zM295 557h1v1h-1zM474 557h11v1h-11zM534 557h1v1h-1zM740 557h2v1h-2zM853 557h2v1h-2zM882 557h1v1h-1zM56 558h2v1h-2zM67 558h3v1h-3zM295 558h1v1h-1zM535 558h1v1h-1zM740 558h1v1h-1zM855 558h2v1h-2zM881 558h1v1h-1zM58 559h1v1h-1zM64 559h3v1h-3zM70 559h4v1h-4zM284 559h1v1h-1zM294 559h1v1h-1zM536 559h1v1h-1zM579 559h10v1h-10zM739 559h1v1h-1zM857 559h2v1h-2zM880 559h1v1h-1zM59 560h1v1h-1zM62 560h2v1h-2zM74 560h11v1h-11zM180 560h4v1h-4zM283 560h1v1h-1zM285 560h2v1h-2zM294 560h1v1h-1zM537 560h1v1h-1zM577 560h2v1h-2zM589 560h1v1h-1zM739 560h1v1h-1zM859 560h5v1h-5zM880 560h1v1h-1zM60 561h2v1h-2zM85 561h2v1h-2zM179 561h1v1h-1zM184 561h8v1h-8zM211 561h3v1h-3zM282 561h1v1h-1zM287 561h1v1h-1zM293 561h1v1h-1zM538 561h1v1h-1zM575 561h2v1h-2zM590 561h1v1h-1zM739 561h1v1h-1zM864 561h5v1h-5zM879 561h1v1h-1zM87 562h2v1h-2zM178 562h1v1h-1zM192 562h6v1h-6zM209 562h2v1h-2zM214 562h2v1h-2zM282 562h1v1h-1zM288 562h2v1h-2zM293 562h1v1h-1zM539 562h1v1h-1zM544 562h8v1h-8zM573 562h2v1h-2zM591 562h1v1h-1zM738 562h1v1h-1zM869 562h2v1h-2zM878 562h1v1h-1zM89 563h2v1h-2zM177 563h1v1h-1zM198 563h2v1h-2zM207 563h2v1h-2zM216 563h3v1h-3zM281 563h1v1h-1zM290 563h3v1h-3zM540 563h4v1h-4zM552 563h6v1h-6zM571 563h2v1h-2zM592 563h1v1h-1zM738 563h1v1h-1zM871 563h1v1h-1zM878 563h1v1h-1zM91 564h2v1h-2zM176 564h1v1h-1zM200 564h3v1h-3zM205 564h2v1h-2zM219 564h2v1h-2zM280 564h1v1h-1zM292 564h1v1h-1zM558 564h2v1h-2zM568 564h3v1h-3zM593 564h1v1h-1zM738 564h1v1h-1zM872 564h2v1h-2zM877 564h1v1h-1zM93 565h1v1h-1zM175 565h1v1h-1zM203 565h2v1h-2zM221 565h2v1h-2zM279 565h1v1h-1zM560 565h3v1h-3zM566 565h2v1h-2zM594 565h1v1h-1zM608 565h8v1h-8zM624 565h5v1h-5zM737 565h1v1h-1zM874 565h2v1h-2zM877 565h1v1h-1zM94 566h1v1h-1zM160 566h6v1h-6zM174 566h1v1h-1zM223 566h1v1h-1zM266 566h4v1h-4zM278 566h1v1h-1zM563 566h3v1h-3zM595 566h1v1h-1zM600 566h8v1h-8zM616 566h8v1h-8zM629 566h1v1h-1zM737 566h1v1h-1zM876 566h1v1h-1zM95 567h1v1h-1zM155 567h5v1h-5zM166 567h4v1h-4zM173 567h1v1h-1zM224 567h2v1h-2zM262 567h4v1h-4zM270 567h2v1h-2zM278 567h1v1h-1zM596 567h4v1h-4zM630 567h1v1h-1zM737 567h1v1h-1zM96 568h1v1h-1zM152 568h3v1h-3zM170 568h3v1h-3zM226 568h2v1h-2zM251 568h11v1h-11zM272 568h3v1h-3zM277 568h1v1h-1zM631 568h1v1h-1zM736 568h1v1h-1zM97 569h1v1h-1zM150 569h2v1h-2zM228 569h2v1h-2zM248 569h3v1h-3zM275 569h2v1h-2zM632 569h1v1h-1zM736 569h1v1h-1zM98 570h1v1h-1zM144 570h6v1h-6zM230 570h4v1h-4zM246 570h2v1h-2zM632 570h1v1h-1zM736 570h1v1h-1zM99 571h1v1h-1zM140 571h4v1h-4zM234 571h12v1h-12zM633 571h1v1h-1zM735 571h1v1h-1zM100 572h1v1h-1zM138 572h2v1h-2zM634 572h1v1h-1zM735 572h1v1h-1zM101 573h1v1h-1zM137 573h1v1h-1zM635 573h1v1h-1zM735 573h1v1h-1zM102 574h2v1h-2zM136 574h1v1h-1zM636 574h1v1h-1zM734 574h1v1h-1zM104 575h1v1h-1zM134 575h2v1h-2zM637 575h2v1h-2zM698 575h6v1h-6zM734 575h1v1h-1zM105 576h1v1h-1zM133 576h1v1h-1zM639 576h2v1h-2zM694 576h4v1h-4zM704 576h13v1h-13zM734 576h1v1h-1zM106 577h2v1h-2zM130 577h3v1h-3zM641 577h2v1h-2zM675 577h3v1h-3zM691 577h3v1h-3zM717 577h2v1h-2zM733 577h1v1h-1zM108 578h2v1h-2zM126 578h4v1h-4zM643 578h3v1h-3zM673 578h2v1h-2zM678 578h2v1h-2zM688 578h3v1h-3zM719 578h1v1h-1zM733 578h1v1h-1zM110 579h4v1h-4zM120 579h6v1h-6zM646 579h2v1h-2zM671 579h2v1h-2zM680 579h3v1h-3zM686 579h2v1h-2zM720 579h2v1h-2zM733 579h1v1h-1zM114 580h6v1h-6zM648 580h3v1h-3zM656 580h8v1h-8zM669 580h2v1h-2zM683 580h3v1h-3zM722 580h2v1h-2zM732 580h1v1h-1zM651 581h5v1h-5zM664 581h5v1h-5zM724 581h9v1h-9z" fill="#1e90ff"/>
<rect x="1155" y="497" width="2" height="1" fill="#000"/>
<rect x="1155" y="464" width="2" height="1" fill="#000"/>
<rect x="1155" y="431" width="2" height="1" fill="#000"/>
<rect x="1155" y="398" width="2" height="1" fill="#000"/>
<rect x="1155" y="365" width="2" height="1" fill="#000"/>
<rect x="1155" y="332" width="2" height="1" fill="#000"/>
<rect x="1155" y="299" width="2" height="1" fill="#000"/>
<rect x="1155" y="266" width="2" height="1" fill="#000"/>
<rect x="1155" y="200" width="2" height="1" fill="#000"/>
<rect x="1155" y="167" width="2" height="1" fill="#000"/>
<rect x="1155" y="134" width="2" height="1" fill="#000"/>
<rect x="1155" y="101" width="2" height="1" fill="#000"/>
<rect x="1155" y="68" width="2" height="1" fill="#000"/>
<rect x="1155" y="35" width="2" height="1" fill="#000"/>
<rect x="1155" y="233" width="1" height="1" fill="#000"/>
<rect x="1156" y="230" width="41" height="11" fill="#000"/>
<rect x="1155" y="610" width="2" height="1" fill="#000"/>
<rect x="1155" y="503" width="2" height="1" fill="#000"/>
<rect x="4" y="612" width="1" height="3" fill="#000"/>
<rect x="68" y="612" width="1" height="3" fill="#000"/>
<rect x="132" y="612" width="1" height="3" fill="#000"/>
<rect x="196" y="612" width="1" height="3" fill="#000"/>
<rect x="260" y="612" width="1" height="3" fill="#000"/>
<rect x="324" y="612" width="1" height="3" fill="#000"/>
<rect x="388" y="612" width="1" height="3" fill="#000"/>
<rect x="452" y="612" width="1" height="3" fill="#000"/>
<rect x="516" y="612" width="1" height="3" fill="#000"/>
<rect x="580" y="612" width="1" height="3" fill="#000"/>
<rect x="644" y="612" width="1" height="3" fill="#000"/>
<rect x="708" y="612" width="1" height="3" fill="#000"/>
<rect x="772" y="612" width="1" height="3" fill="#000"/>
<rect x="836" y="612" width="1" height="3" fill="#000"/>
<rect x="900" y="612" width="1" height="3" fill="#000"/>
<polygon points="7,37 14,37 10.5,41" fill="#000"/>
</svg>
<div class="ax" style="left:1160px;top:493px">0.68200</div>
<div class="ax" style="left:1160px;top:460px">0.68630</div>
<div class="ax" style="left:1160px;top:427px">0.69050</div>
<div class="ax" style="left:1160px;top:394px">0.69480</div>
<div class="ax" style="left:1160px;top:361px">0.69900</div>
<div class="ax" style="left:1160px;top:328px">0.70330</div>
<div class="ax" style="left:1160px;top:295px">0.70760</div>
<div class="ax" style="left:1160px;top:262px">0.71180</div>
<div class="ax" style="left:1160px;top:196px">0.72030</div>
<div class="ax" style="left:1160px;top:163px">0.72460</div>
<div class="ax" style="left:1160px;top:130px">0.72890</div>
<div class="ax" style="left:1160px;top:97px">0.73310</div>
<div class="ax" style="left:1160px;top:64px">0.73740</div>
<div class="ax" style="left:1160px;top:31px">0.74160</div>
<div class="ax" style="left:1160px;top:231px;color:#fff;-webkit-text-stroke-color:#fff">0.71580</div>
<div class="ax" style="left:1157.5px;top:505px">100</div>
<div class="ax" style="left:1157.5px;top:532px">70</div>
<div class="ax" style="left:1157.5px;top:574px">30</div>
<div class="ax" style="left:1157.5px;top:600px">0</div>
<div class="ax" style="left:3.5px;top:616px;transform:scale(.905,1)">19 Sep 2018</div>
<div class="ax" style="left:67.5px;top:616px;transform:scale(.905,1)">28 Sep 2018</div>
<div class="ax" style="left:131.5px;top:616px;transform:scale(.905,1)">8 Oct 2018</div>
<div class="ax" style="left:195.5px;top:616px;transform:scale(.905,1)">17 Oct 2018</div>
<div class="ax" style="left:259.5px;top:616px;transform:scale(.905,1)">26 Oct 2018</div>
<div class="ax" style="left:323.5px;top:616px;transform:scale(.905,1)">5 Nov 2018</div>
<div class="ax" style="left:387.5px;top:616px;transform:scale(.905,1)">14 Nov 2018</div>
<div class="ax" style="left:451.5px;top:616px;transform:scale(.905,1)">23 Nov 2018</div>
<div class="ax" style="left:515.5px;top:616px;transform:scale(.905,1)">3 Dec 2018</div>
<div class="ax" style="left:579.5px;top:616px;transform:scale(.905,1)">12 Dec 2018</div>
<div class="ax" style="left:643.5px;top:616px;transform:scale(.905,1)">21 Dec 2018</div>
<div class="ax" style="left:707.5px;top:616px;transform:scale(.905,1)">31 Dec 2018</div>
<div class="ax" style="left:771.5px;top:616px;transform:scale(.905,1)">9 Jan 2019</div>
<div class="ax" style="left:835.5px;top:616px;transform:scale(.905,1)">18 Jan 2019</div>
<div class="ax" style="left:899.5px;top:616px;transform:scale(.905,1)">28 Jan 2019</div>
<div class="ax" style="left:20px;top:34px;transform:scale(.952,1)">AUDUSD,Daily</div>
<div class="ax" style="left:91.0px;top:34px">0.71661</div>
<div class="ax" style="left:127.1px;top:34px">0.71727</div>
<div class="ax" style="left:163.2px;top:34px">0.71370</div>
<div class="ax" style="left:199.3px;top:34px">0.71580</div>
<div class="ax" style="left:8px;top:507px;transform:scale(.935,1)">RSI(14) 51.6922</div>
<div id="tabbar"><div class="l0"></div><div class="l1"></div><div class="l2"></div><div class="l3"></div><div class="l4"></div><div class="e0"></div><div class="e1"></div></div>
<div id="acttab"><div class="cap"></div><div class="sr"></div><div class="sb"></div></div>
<svg style="position:absolute;left:0;top:0" width="1198" height="657" shape-rendering="crispEdges"><rect x="313" y="638" width="1" height="12" fill="#808080"/><rect x="405" y="638" width="1" height="12" fill="#808080"/><rect x="509" y="638" width="1" height="12" fill="#808080"/><rect x="605" y="638" width="1" height="12" fill="#808080"/><rect x="697" y="638" width="1" height="12" fill="#808080"/><rect x="801" y="638" width="1" height="12" fill="#808080"/><rect x="889" y="638" width="1" height="12" fill="#808080"/><rect x="993" y="638" width="1" height="12" fill="#808080"/><rect x="1061" y="638" width="1" height="12" fill="#808080"/><rect x="1153" y="638" width="1" height="12" fill="#808080"/>
<path d="M1173 640h1v7h-1zM1172 641h1v5h-1zM1171 642h1v3h-1zM1170 643h1v1h-1z" fill="#8c8c8c"/>
<path d="M1189 640h1v7h-1zM1190 641h1v5h-1zM1191 642h1v3h-1zM1192 643h1v1h-1z" fill="#000"/>
</svg>
<div class="tab" style="left:17.4px">EURUSD,Daily</div>
<div class="tab act" style="left:120px">AUDUSD,Daily</div>
<div class="tab" style="left:223px">USDCHF,Daily</div>
<div class="tab" style="left:324px">USDCAD,H4</div>
<div class="tab" style="left:415.7px">USDCNH,Daily</div>
<div class="tab" style="left:519.5px">USDJPY,Daily</div>
<div class="tab" style="left:616px">XAUUSD,H1</div>
<div class="tab" style="left:709.2px">GBPUSD,Daily</div>
<div class="tab" style="left:813.7px">SP500,M15</div>
<div class="tab" style="left:901.5px">GBPUSD,Daily</div>
<div class="tab" style="left:1003.3px">DJ30,H4</div>
<div class="tab" style="left:1071.8px">TECH100,H1</div>
</body></html>
